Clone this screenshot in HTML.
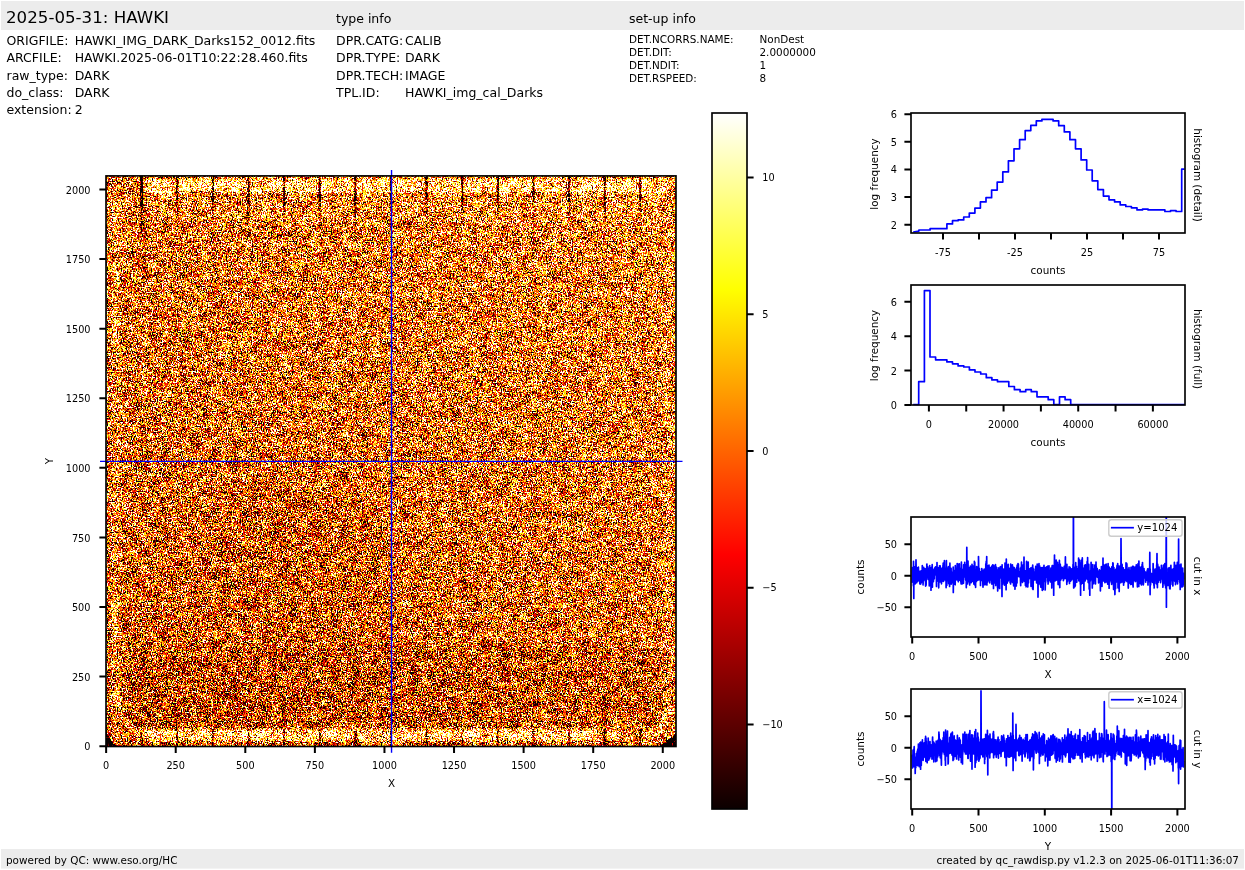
<!DOCTYPE html>
<html><head><meta charset="utf-8"><title>HAWKI raw display</title>
<style>
html,body{margin:0;padding:0;background:#fff;overflow:hidden}
svg{display:block}
text{font-family:'DejaVu Sans','Liberation Sans',sans-serif;white-space:pre}
.sp{fill:none;stroke:#000;stroke-width:1.65}
.tk{stroke:#000;stroke-width:2.0;fill:none}
.ln{fill:none;stroke:#0000ff;stroke-linejoin:round}
</style></head><body>
<svg width="1245" height="870" viewBox="0 0 1245 870">

<rect x="1" y="1" width="1243" height="29" fill="#ececec"/>
<rect x="1" y="849" width="1243" height="19.6" fill="#ececec"/>
<text x="6" y="23" font-size="16.67" text-anchor="start" fill="#000">2025-05-31: HAWKI</text>
<text x="336" y="23" font-size="12.5" text-anchor="start" fill="#000">type info</text>
<text x="629" y="23" font-size="12.5" text-anchor="start" fill="#000">set-up info</text>
<text x="6.5" y="44.7" font-size="12.5" text-anchor="start" fill="#000">ORIGFILE:</text>
<text x="74.7" y="44.7" font-size="12.5" text-anchor="start" fill="#000">HAWKI_IMG_DARK_Darks152_0012.fits</text>
<text x="6.5" y="61.7" font-size="12.5" text-anchor="start" fill="#000">ARCFILE:</text>
<text x="74.7" y="61.7" font-size="12.5" text-anchor="start" fill="#000">HAWKI.2025-06-01T10:22:28.460.fits</text>
<text x="6.5" y="79.8" font-size="12.5" text-anchor="start" fill="#000">raw_type:</text>
<text x="74.7" y="79.8" font-size="12.5" text-anchor="start" fill="#000">DARK</text>
<text x="6.5" y="97.3" font-size="12.5" text-anchor="start" fill="#000">do_class:</text>
<text x="74.7" y="97.3" font-size="12.5" text-anchor="start" fill="#000">DARK</text>
<text x="6.5" y="113.6" font-size="12.5" text-anchor="start" fill="#000">extension:</text>
<text x="74.7" y="113.6" font-size="12.5" text-anchor="start" fill="#000">2</text>
<text x="336" y="44.7" font-size="12.5" text-anchor="start" fill="#000">DPR.CATG:</text>
<text x="405" y="44.7" font-size="12.5" text-anchor="start" fill="#000">CALIB</text>
<text x="336" y="61.7" font-size="12.5" text-anchor="start" fill="#000">DPR.TYPE:</text>
<text x="405" y="61.7" font-size="12.5" text-anchor="start" fill="#000">DARK</text>
<text x="336" y="79.8" font-size="12.5" text-anchor="start" fill="#000">DPR.TECH:</text>
<text x="405" y="79.8" font-size="12.5" text-anchor="start" fill="#000">IMAGE</text>
<text x="336" y="97.3" font-size="12.5" text-anchor="start" fill="#000">TPL.ID:</text>
<text x="405" y="97.3" font-size="12.5" text-anchor="start" fill="#000">HAWKI_img_cal_Darks</text>
<text x="629" y="43.0" font-size="10.42" text-anchor="start" fill="#000">DET.NCORRS.NAME:</text>
<text x="759.5" y="43.0" font-size="10.42" text-anchor="start" fill="#000">NonDest</text>
<text x="629" y="55.9" font-size="10.42" text-anchor="start" fill="#000">DET.DIT:</text>
<text x="759.5" y="55.9" font-size="10.42" text-anchor="start" fill="#000">2.0000000</text>
<text x="629" y="68.8" font-size="10.42" text-anchor="start" fill="#000">DET.NDIT:</text>
<text x="759.5" y="68.8" font-size="10.42" text-anchor="start" fill="#000">1</text>
<text x="629" y="81.7" font-size="10.42" text-anchor="start" fill="#000">DET.RSPEED:</text>
<text x="759.5" y="81.7" font-size="10.42" text-anchor="start" fill="#000">8</text>
<text x="6" y="864" font-size="10.42" text-anchor="start" fill="#000">powered by QC: www.eso.org/HC</text>
<text x="1239" y="864" font-size="10.42" text-anchor="end" fill="#000">created by qc_rawdisp.py v1.2.3 on 2025-06-01T11:36:07</text>
<defs>
<filter id="hm" filterUnits="userSpaceOnUse" x="106" y="176" width="570" height="570" color-interpolation-filters="sRGB">
<feTurbulence type="fractalNoise" baseFrequency="0.8" numOctaves="1" seed="3"/><feColorMatrix type="matrix" values="1 0 0 0 0  1 0 0 0 0  1 0 0 0 0  0 0 0 0 1" result="n0"/>
<feTurbulence type="fractalNoise" baseFrequency="0.35" numOctaves="1" seed="7"/><feColorMatrix type="matrix" values="1 0 0 0 0  1 0 0 0 0  1 0 0 0 0  0 0 0 0 1" result="n1"/>
<feTurbulence type="fractalNoise" baseFrequency="0.2" numOctaves="1" seed="11"/><feColorMatrix type="matrix" values="1 0 0 0 0  1 0 0 0 0  1 0 0 0 0  0 0 0 0 1" result="n2"/>
<feTurbulence type="fractalNoise" baseFrequency="0.1" numOctaves="1" seed="19"/><feColorMatrix type="matrix" values="1 0 0 0 0  1 0 0 0 0  1 0 0 0 0  0 0 0 0 1" result="n3"/>
<feComposite in="n0" in2="n1" operator="arithmetic" k1="0" k2="0.9880" k3="0.3800" k4="-0.1840" result="a1"/>
<feComposite in="a1" in2="n2" operator="arithmetic" k1="0" k2="1" k3="0.1900" k4="-0.0950" result="a2"/>
<feComposite in="a2" in2="n3" operator="arithmetic" k1="0" k2="1" k3="0.2400" k4="-0.1200" result="g"/>

<feComposite in="g" in2="SourceGraphic" operator="arithmetic" k1="0" k2="3.1760" k3="2" k4="-2.0780" result="c"/>
<feComponentTransfer in="c">
<feFuncR type="table" tableValues="0.0416 0.0833 0.1249 0.1666 0.2083 0.2499 0.2916 0.3333 0.3750 0.4166 0.4583 0.5000 0.5416 0.5833 0.6250 0.6666 0.7083 0.7500 0.7917 0.8333 0.8750 0.9167 0.9583 1.0000 1.0000 1.0000 1.0000 1.0000 1.0000 1.0000 1.0000 1.0000 1.0000 1.0000 1.0000 1.0000 1.0000 1.0000 1.0000 1.0000 1.0000 1.0000 1.0000 1.0000 1.0000 1.0000 1.0000 1.0000 1.0000 1.0000 1.0000 1.0000 1.0000 1.0000 1.0000 1.0000 1.0000 1.0000 1.0000 1.0000 1.0000 1.0000 1.0000 1.0000"/>
<feFuncG type="table" tableValues="0.0000 0.0000 0.0000 0.0000 0.0000 0.0000 0.0000 0.0000 0.0000 0.0000 0.0000 0.0000 0.0000 0.0000 0.0000 0.0000 0.0000 0.0000 0.0000 0.0000 0.0000 0.0000 0.0000 0.0000 0.0417 0.0833 0.1250 0.1667 0.2083 0.2500 0.2917 0.3333 0.3750 0.4167 0.4583 0.5000 0.5417 0.5833 0.6250 0.6667 0.7083 0.7500 0.7917 0.8333 0.8750 0.9167 0.9583 1.0000 1.0000 1.0000 1.0000 1.0000 1.0000 1.0000 1.0000 1.0000 1.0000 1.0000 1.0000 1.0000 1.0000 1.0000 1.0000 1.0000"/>
<feFuncB type="table" tableValues="0.0000 0.0000 0.0000 0.0000 0.0000 0.0000 0.0000 0.0000 0.0000 0.0000 0.0000 0.0000 0.0000 0.0000 0.0000 0.0000 0.0000 0.0000 0.0000 0.0000 0.0000 0.0000 0.0000 0.0000 0.0000 0.0000 0.0000 0.0000 0.0000 0.0000 0.0000 0.0000 0.0000 0.0000 0.0000 0.0000 0.0000 0.0000 0.0000 0.0000 0.0000 0.0000 0.0000 0.0000 0.0000 0.0000 0.0000 0.0000 0.0625 0.1250 0.1875 0.2500 0.3125 0.3750 0.4375 0.5000 0.5625 0.6250 0.6875 0.7500 0.8125 0.8750 0.9375 1.0000"/>
<feFuncA type="linear" slope="0" intercept="1"/>
</feComponentTransfer>
</filter>
<linearGradient id="cb" x1="0" y1="0" x2="0" y2="1">
<stop offset="0" stop-color="#ffffff"/><stop offset="0.253968" stop-color="#ffff00"/><stop offset="0.634921" stop-color="#ff0000"/><stop offset="1" stop-color="#0b0000"/>
</linearGradient>
<linearGradient id="fadeDown" x1="0" y1="0" x2="0" y2="1">
<stop offset="0" stop-color="#000" stop-opacity="0.4"/><stop offset="1" stop-color="#000" stop-opacity="0"/>
</linearGradient>
<linearGradient id="baseg" x1="-0.0215" y1="1.3533" x2="1.0215" y2="-0.3533">
<stop offset="0" stop-color="#727272"/><stop offset="1" stop-color="#8d8d8d"/>
</linearGradient>
<filter id="bl1" filterUnits="userSpaceOnUse" x="90" y="160" width="610" height="610"><feGaussianBlur stdDeviation="1.2"/></filter>
<filter id="bl2" filterUnits="userSpaceOnUse" x="90" y="160" width="610" height="610"><feGaussianBlur stdDeviation="2"/></filter>
<filter id="bl4" filterUnits="userSpaceOnUse" x="90" y="160" width="610" height="610"><feGaussianBlur stdDeviation="4"/></filter>
</defs>
<g filter="url(#hm)">
<rect x="106" y="176" width="570" height="570" fill="url(#baseg)"/>
<ellipse cx="295" cy="560" rx="95" ry="80" fill="#000" opacity="0.035" filter="url(#bl4)"/>
<rect x="125" y="645" width="535" height="80" fill="#000" opacity="0.06" filter="url(#bl4)"/>
<path d="M116 700 L116 215 Q116 198 140 194" fill="none" stroke="#fff" stroke-width="9" opacity="0.12" filter="url(#bl2)"/>
<path d="M668 715 L668 215 Q668 200 650 196" fill="none" stroke="#fff" stroke-width="8" opacity="0.08" filter="url(#bl2)"/>
<rect x="144" y="179" width="524" height="14" rx="5" fill="#fff" opacity="0.31" filter="url(#bl1)"/>
<rect x="150" y="197" width="510" height="26" fill="#fff" opacity="0.06" filter="url(#bl2)"/>
<path d="M138 735 L600 735" fill="none" stroke="#fff" stroke-width="11.5" opacity="0.34" filter="url(#bl1)"/>
<path d="M118 690 Q119 722 138 733" fill="none" stroke="#fff" stroke-width="6" opacity="0.25" filter="url(#bl1)"/>
<path d="M600 735 L645 735 Q666 733 669 708" fill="none" stroke="#fff" stroke-width="9" opacity="0.2" filter="url(#bl1)"/>
<path d="M106 746 L106 730 Q109 742 117 746 Z" fill="#000" opacity="0.9"/>
<path d="M676 746 L676 733 Q669 740 660 746 Z" fill="#000" opacity="0.85"/>
<rect x="140.12" y="176" width="3.0" height="30" rx="1.1" fill="#000" opacity="0.75"/>
<rect x="140.53" y="202" width="2.2" height="41" fill="url(#fadeDown)"/>
<rect x="140.62" y="729" width="2.0" height="17" fill="#000" opacity="0.45"/>
<rect x="176.15" y="176" width="2.2" height="24" rx="1.1" fill="#000" opacity="0.6"/>
<rect x="176.15" y="196" width="2.2" height="48" fill="url(#fadeDown)"/>
<rect x="176.25" y="729" width="2.0" height="17" fill="#000" opacity="0.45"/>
<rect x="211.78" y="176" width="2.2" height="26" rx="1.1" fill="#000" opacity="0.6"/>
<rect x="211.78" y="198" width="2.2" height="38" fill="url(#fadeDown)"/>
<rect x="211.88" y="729" width="2.0" height="17" fill="#000" opacity="0.45"/>
<rect x="247.40" y="176" width="2.2" height="28" rx="1.1" fill="#000" opacity="0.6"/>
<rect x="247.40" y="200" width="2.2" height="45" fill="url(#fadeDown)"/>
<rect x="247.50" y="729" width="2.0" height="17" fill="#000" opacity="0.45"/>
<rect x="283.02" y="176" width="2.2" height="30" rx="1.1" fill="#000" opacity="0.6"/>
<rect x="283.02" y="202" width="2.2" height="35" fill="url(#fadeDown)"/>
<rect x="283.12" y="729" width="2.0" height="17" fill="#000" opacity="0.45"/>
<rect x="318.65" y="176" width="2.2" height="26" rx="1.1" fill="#000" opacity="0.6"/>
<rect x="318.65" y="198" width="2.2" height="42" fill="url(#fadeDown)"/>
<rect x="318.75" y="729" width="2.0" height="17" fill="#000" opacity="0.45"/>
<rect x="354.27" y="176" width="2.2" height="24" rx="1.1" fill="#000" opacity="0.6"/>
<rect x="354.27" y="196" width="2.2" height="49" fill="url(#fadeDown)"/>
<rect x="354.38" y="729" width="2.0" height="17" fill="#000" opacity="0.45"/>
<rect x="389.90" y="176" width="2.2" height="22" rx="1.1" fill="#000" opacity="0.6"/>
<rect x="389.90" y="194" width="2.2" height="39" fill="url(#fadeDown)"/>
<rect x="390.00" y="729" width="2.0" height="17" fill="#000" opacity="0.45"/>
<rect x="425.52" y="176" width="2.2" height="24" rx="1.1" fill="#000" opacity="0.6"/>
<rect x="425.52" y="196" width="2.2" height="46" fill="url(#fadeDown)"/>
<rect x="425.62" y="729" width="2.0" height="17" fill="#000" opacity="0.45"/>
<rect x="461.15" y="176" width="2.2" height="26" rx="1.1" fill="#000" opacity="0.6"/>
<rect x="461.15" y="198" width="2.2" height="36" fill="url(#fadeDown)"/>
<rect x="461.25" y="729" width="2.0" height="17" fill="#000" opacity="0.45"/>
<rect x="496.77" y="176" width="2.2" height="24" rx="1.1" fill="#000" opacity="0.6"/>
<rect x="496.77" y="196" width="2.2" height="43" fill="url(#fadeDown)"/>
<rect x="496.88" y="729" width="2.0" height="17" fill="#000" opacity="0.45"/>
<rect x="532.40" y="176" width="2.2" height="26" rx="1.1" fill="#000" opacity="0.6"/>
<rect x="532.40" y="198" width="2.2" height="50" fill="url(#fadeDown)"/>
<rect x="532.50" y="729" width="2.0" height="17" fill="#000" opacity="0.45"/>
<rect x="568.02" y="176" width="2.2" height="26" rx="1.1" fill="#000" opacity="0.6"/>
<rect x="568.02" y="198" width="2.2" height="40" fill="url(#fadeDown)"/>
<rect x="568.12" y="729" width="2.0" height="17" fill="#000" opacity="0.45"/>
<rect x="603.65" y="176" width="2.2" height="24" rx="1.1" fill="#000" opacity="0.6"/>
<rect x="603.65" y="196" width="2.2" height="47" fill="url(#fadeDown)"/>
<rect x="603.75" y="729" width="2.0" height="17" fill="#000" opacity="0.45"/>
<rect x="639.27" y="176" width="2.2" height="24" rx="1.1" fill="#000" opacity="0.6"/>
<rect x="639.27" y="196" width="2.2" height="37" fill="url(#fadeDown)"/>
<rect x="639.38" y="729" width="2.0" height="17" fill="#000" opacity="0.45"/>
</g>
<path d="M391.54 170V752.7M100 461.36H682.5" stroke="#0000ff" stroke-width="1.39" fill="none"/>
<rect class="sp" x="106" y="175.9" width="570" height="570.6"/>
<text x="106.14" y="768.6" font-size="9.72" text-anchor="middle" fill="#000">0</text>
<text x="90.5" y="750.26" font-size="9.72" text-anchor="end" fill="#000">0</text>
<text x="175.72" y="768.6" font-size="9.72" text-anchor="middle" fill="#000">250</text>
<text x="90.5" y="680.68" font-size="9.72" text-anchor="end" fill="#000">250</text>
<text x="245.3" y="768.6" font-size="9.72" text-anchor="middle" fill="#000">500</text>
<text x="90.5" y="611.1" font-size="9.72" text-anchor="end" fill="#000">500</text>
<text x="314.88" y="768.6" font-size="9.72" text-anchor="middle" fill="#000">750</text>
<text x="90.5" y="541.52" font-size="9.72" text-anchor="end" fill="#000">750</text>
<text x="384.46" y="768.6" font-size="9.72" text-anchor="middle" fill="#000">1000</text>
<text x="90.5" y="471.94" font-size="9.72" text-anchor="end" fill="#000">1000</text>
<text x="454.04" y="768.6" font-size="9.72" text-anchor="middle" fill="#000">1250</text>
<text x="90.5" y="402.36" font-size="9.72" text-anchor="end" fill="#000">1250</text>
<text x="523.62" y="768.6" font-size="9.72" text-anchor="middle" fill="#000">1500</text>
<text x="90.5" y="332.78" font-size="9.72" text-anchor="end" fill="#000">1500</text>
<text x="593.2" y="768.6" font-size="9.72" text-anchor="middle" fill="#000">1750</text>
<text x="90.5" y="263.2" font-size="9.72" text-anchor="end" fill="#000">1750</text>
<text x="662.78" y="768.6" font-size="9.72" text-anchor="middle" fill="#000">2000</text>
<text x="90.5" y="193.62" font-size="9.72" text-anchor="end" fill="#000">2000</text>
<path class="tk" d="M106.14 746.4v6.6M106 746.16h-6.6M175.72 746.4v6.6M106 676.58h-6.6M245.30 746.4v6.6M106 607.00h-6.6M314.88 746.4v6.6M106 537.42h-6.6M384.46 746.4v6.6M106 467.84h-6.6M454.04 746.4v6.6M106 398.26h-6.6M523.62 746.4v6.6M106 328.68h-6.6M593.20 746.4v6.6M106 259.10h-6.6M662.78 746.4v6.6M106 189.52h-6.6"/>
<text x="391.6" y="786.5" font-size="10.42" text-anchor="middle" fill="#000">X</text>
<text x="52.6" y="461" font-size="10.42" text-anchor="middle" fill="#000" transform="rotate(-90 52.6 461)">Y</text>
<rect x="712" y="113" width="35" height="696" fill="url(#cb)"/>
<rect class="sp" x="712" y="113" width="35" height="696"/>
<text x="762.3" y="181.0" font-size="9.72" text-anchor="start" fill="#000">10</text>
<text x="762.3" y="317.75" font-size="9.72" text-anchor="start" fill="#000">5</text>
<text x="762.3" y="454.5" font-size="9.72" text-anchor="start" fill="#000">0</text>
<text x="762.3" y="591.25" font-size="9.72" text-anchor="start" fill="#000">−5</text>
<text x="762.3" y="728.0" font-size="9.72" text-anchor="start" fill="#000">−10</text>
<path class="tk" d="M747 177.40h6.6M747 314.15h6.6M747 450.90h6.6M747 587.65h6.6M747 724.40h6.6"/>
<path class="ln" d="M913.2 232.0 L918.9 231.1 L918.9 230.0 L930.1 230.0 L930.1 228.7 L946.9 228.7 L946.9 223.9 L952.5 223.9 L952.5 220.7 L958.1 220.7 L958.1 219.9 L963.7 219.9 L963.7 217.0 L969.3 217.0 L969.3 213.1 L974.9 213.1 L974.9 208.1 L980.4 208.1 L980.4 201.9 L986.0 201.9 L986.0 197.7 L991.6 197.7 L991.6 190.1 L997.2 190.1 L997.2 182.1 L1002.8 182.1 L1002.8 171.9 L1008.4 171.9 L1008.4 160.8 L1014.0 160.8 L1014.0 148.8 L1019.6 148.8 L1019.6 139.7 L1025.2 139.7 L1025.2 130.6 L1030.8 130.6 L1030.8 125.4 L1036.3 125.4 L1036.3 120.9 L1041.9 120.9 L1041.9 119.3 L1053.1 119.3 L1053.1 120.9 L1058.7 120.9 L1058.7 125.7 L1064.3 125.7 L1064.3 131.9 L1069.9 131.9 L1069.9 139.7 L1075.5 139.7 L1075.5 148.8 L1081.1 148.8 L1081.1 159.9 L1086.7 159.9 L1086.7 170.0 L1092.2 170.0 L1092.2 180.8 L1097.8 180.8 L1097.8 189.6 L1103.4 189.6 L1103.4 196.1 L1109.0 196.1 L1109.0 199.8 L1114.6 199.8 L1114.6 201.9 L1120.2 201.9 L1120.2 204.9 L1125.8 204.9 L1125.8 206.5 L1131.4 206.5 L1131.4 207.8 L1137.0 207.8 L1137.0 209.9 L1142.5 209.9 L1142.5 209.1 L1148.1 209.1 L1148.1 209.9 L1164.9 209.9 L1164.9 211.5 L1170.5 211.5 L1170.5 210.7 L1176.1 210.7 L1176.1 211.5 L1181.7 211.5 L1181.7 169.2 L1184.5 169.2" stroke-width="1.7" stroke-linejoin="miter"/>
<rect class="sp" x="911" y="113" width="274" height="120"/>
<text x="943.0" y="255.5" font-size="9.72" text-anchor="middle" fill="#000">-75</text>
<text x="1015.0" y="255.5" font-size="9.72" text-anchor="middle" fill="#000">-25</text>
<text x="1087.0" y="255.5" font-size="9.72" text-anchor="middle" fill="#000">25</text>
<text x="1159.0" y="255.5" font-size="9.72" text-anchor="middle" fill="#000">75</text>
<text x="897" y="228.6" font-size="9.72" text-anchor="end" fill="#000">2</text>
<text x="897" y="200.97" font-size="9.72" text-anchor="end" fill="#000">3</text>
<text x="897" y="173.34" font-size="9.72" text-anchor="end" fill="#000">4</text>
<text x="897" y="145.71" font-size="9.72" text-anchor="end" fill="#000">5</text>
<text x="897" y="118.08" font-size="9.72" text-anchor="end" fill="#000">6</text>
<path class="tk" d="M943.00 233v6.6M979.00 233v6.6M1015.00 233v6.6M1051.00 233v6.6M1087.00 233v6.6M1123.00 233v6.6M1159.00 233v6.6M911 224.70h-6.6M911 197.07h-6.6M911 169.44h-6.6M911 141.81h-6.6M911 114.18h-6.6"/>
<text x="1048" y="273.5" font-size="10.42" text-anchor="middle" fill="#000">counts</text>
<text x="878" y="174.0" font-size="10.42" text-anchor="middle" fill="#000" transform="rotate(-90 878 174.0)">log frequency</text>
<text x="1193.5" y="175.0" font-size="10.42" text-anchor="middle" fill="#000" transform="rotate(90 1193.5 175.0)">histogram (detail)</text>
<path class="ln" d="M913.2 404.5 L918.7 404.5 L918.7 381.7 L924.4 381.7 L924.4 290.6 L930.0 290.6 L930.0 357.0 L935.6 357.0 L935.6 359.8 L946.9 359.8 L946.9 361.9 L952.5 361.9 L952.5 363.8 L958.1 363.8 L958.1 365.9 L963.8 365.9 L963.8 367.0 L969.4 367.0 L969.4 369.9 L975.0 369.9 L975.0 372.0 L980.7 372.0 L980.7 374.0 L986.3 374.0 L986.3 377.7 L991.9 377.7 L991.9 379.9 L997.5 379.9 L997.5 381.7 L1008.8 381.7 L1008.8 386.5 L1014.4 386.5 L1014.4 389.7 L1020.1 389.7 L1020.1 391.7 L1025.7 391.7 L1025.7 389.7 L1031.3 389.7 L1031.3 391.7 L1037.0 391.7 L1037.0 396.8 L1048.2 396.8 L1048.2 399.7 L1053.8 399.7 L1053.8 404.5 L1059.5 404.5 L1059.5 396.8 L1065.1 396.8 L1065.1 399.7 L1070.7 399.7 L1070.7 404.5 L1076.4 404.5 L1184.5 404.5" stroke-width="1.7" stroke-linejoin="miter"/>
<rect class="sp" x="911" y="285" width="274" height="120"/>
<text x="928.9" y="427.5" font-size="9.72" text-anchor="middle" fill="#000">0</text>
<text x="1003.56" y="427.5" font-size="9.72" text-anchor="middle" fill="#000">20000</text>
<text x="1078.22" y="427.5" font-size="9.72" text-anchor="middle" fill="#000">40000</text>
<text x="1152.88" y="427.5" font-size="9.72" text-anchor="middle" fill="#000">60000</text>
<text x="897" y="408.9" font-size="9.72" text-anchor="end" fill="#000">0</text>
<text x="897" y="374.5" font-size="9.72" text-anchor="end" fill="#000">2</text>
<text x="897" y="340.1" font-size="9.72" text-anchor="end" fill="#000">4</text>
<text x="897" y="305.7" font-size="9.72" text-anchor="end" fill="#000">6</text>
<path class="tk" d="M928.90 405v6.6M966.23 405v6.6M1003.56 405v6.6M1040.89 405v6.6M1078.22 405v6.6M1115.55 405v6.6M1152.88 405v6.6M911 405.00h-6.6M911 370.60h-6.6M911 336.20h-6.6M911 301.80h-6.6"/>
<text x="1048" y="445.5" font-size="10.42" text-anchor="middle" fill="#000">counts</text>
<text x="878" y="345.5" font-size="10.42" text-anchor="middle" fill="#000" transform="rotate(-90 878 345.5)">log frequency</text>
<text x="1193.5" y="349.0" font-size="10.42" text-anchor="middle" fill="#000" transform="rotate(90 1193.5 349.0)">histogram (full)</text>
<clipPath id="c3"><rect x="911" y="517" width="274" height="120"/></clipPath>
<path class="ln" clip-path="url(#c3)" d="M912.2,582.8 912.3,567.6 912.5,579.7 912.6,576.2 912.7,575.2 912.9,579.0 913.0,582.5 913.1,571.1 913.3,572.7 913.4,585.8 913.5,561.4 913.7,569.2 913.8,598.4 913.9,569.6 914.1,577.4 914.2,575.1 914.3,570.3 914.5,581.9 914.6,571.5 914.7,566.8 914.9,567.2 915.0,576.4 915.1,569.6 915.2,584.0 915.4,575.6 915.5,572.2 915.6,582.4 915.8,575.2 915.9,565.0 916.0,559.9 916.2,570.3 916.3,570.0 916.4,580.2 916.6,581.6 916.7,582.8 916.8,571.7 917.0,570.5 917.1,578.5 917.2,581.7 917.4,573.3 917.5,573.0 917.6,575.5 917.8,567.5 917.9,575.3 918.0,575.1 918.2,581.0 918.3,574.0 918.4,567.1 918.6,574.4 918.7,574.3 918.8,572.3 919.0,573.2 919.1,571.7 919.2,571.7 919.4,571.2 919.5,579.3 919.6,573.0 919.8,583.8 919.9,573.2 920.0,581.9 920.2,575.2 920.3,572.1 920.4,577.1 920.6,574.2 920.7,584.1 920.8,579.6 921.0,570.8 921.1,581.3 921.2,571.1 921.3,582.6 921.5,579.9 921.6,581.0 921.7,574.7 921.9,571.7 922.0,580.8 922.1,575.8 922.3,565.5 922.4,576.5 922.5,579.4 922.7,572.6 922.8,576.0 922.9,578.7 923.1,584.9 923.2,570.1 923.3,578.0 923.5,574.7 923.6,580.8 923.7,567.4 923.9,570.5 924.0,569.2 924.1,575.4 924.3,572.1 924.4,569.7 924.5,568.9 924.7,573.0 924.8,575.1 924.9,576.8 925.1,579.0 925.2,580.2 925.3,572.7 925.5,576.1 925.6,586.1 925.7,575.6 925.9,568.7 926.0,576.3 926.1,585.3 926.3,575.5 926.4,570.3 926.5,573.6 926.7,577.2 926.8,564.3 926.9,564.0 927.1,575.3 927.2,570.1 927.3,572.5 927.4,570.3 927.6,566.5 927.7,570.1 927.8,574.2 928.0,578.5 928.1,579.4 928.2,574.9 928.4,568.2 928.5,573.0 928.6,574.4 928.8,573.3 928.9,574.5 929.0,571.6 929.2,581.1 929.3,586.0 929.4,577.2 929.6,581.3 929.7,565.6 929.8,575.6 930.0,576.2 930.1,583.5 930.2,573.1 930.4,578.3 930.5,568.4 930.6,570.0 930.8,579.2 930.9,572.4 931.0,590.2 931.2,578.6 931.3,567.7 931.4,570.3 931.6,573.8 931.7,574.9 931.8,582.8 932.0,582.5 932.1,573.5 932.2,564.7 932.4,587.1 932.5,571.2 932.6,571.3 932.8,569.4 932.9,579.7 933.0,577.7 933.2,574.5 933.3,580.6 933.4,581.7 933.5,579.8 933.7,575.1 933.8,572.6 933.9,574.9 934.1,574.3 934.2,578.6 934.3,578.8 934.5,568.4 934.6,575.1 934.7,575.2 934.9,569.4 935.0,567.7 935.1,567.5 935.3,572.4 935.4,575.0 935.5,573.1 935.7,573.7 935.8,566.8 935.9,573.1 936.1,571.1 936.2,574.9 936.3,567.0 936.5,586.4 936.6,572.6 936.7,570.5 936.9,581.3 937.0,562.5 937.1,575.6 937.3,575.7 937.4,580.9 937.5,569.8 937.7,573.5 937.8,578.1 937.9,573.5 938.1,570.9 938.2,567.9 938.3,573.5 938.5,580.2 938.6,577.9 938.7,587.8 938.9,578.9 939.0,570.6 939.1,572.1 939.3,575.4 939.4,576.7 939.5,565.8 939.6,573.1 939.8,569.6 939.9,572.5 940.0,578.5 940.2,565.9 940.3,581.8 940.4,581.5 940.6,577.2 940.7,578.9 940.8,577.9 941.0,578.2 941.1,569.1 941.2,574.4 941.4,572.7 941.5,583.8 941.6,579.6 941.8,568.6 941.9,581.6 942.0,568.1 942.2,580.6 942.3,573.0 942.4,579.6 942.6,573.6 942.7,579.9 942.8,576.2 943.0,565.3 943.1,576.9 943.2,563.2 943.4,577.4 943.5,581.4 943.6,574.3 943.8,577.1 943.9,564.8 944.0,569.9 944.2,568.0 944.3,571.2 944.4,560.7 944.6,570.2 944.7,571.7 944.8,579.5 945.0,579.9 945.1,573.7 945.2,569.1 945.4,568.4 945.5,580.1 945.6,571.7 945.7,573.6 945.9,581.1 946.0,571.8 946.1,587.6 946.3,573.3 946.4,560.7 946.5,580.5 946.7,574.6 946.8,585.5 946.9,579.0 947.1,570.5 947.2,580.7 947.3,574.9 947.5,576.8 947.6,576.9 947.7,573.7 947.9,572.0 948.0,567.8 948.1,570.0 948.3,578.0 948.4,566.7 948.5,567.7 948.7,583.6 948.8,571.0 948.9,570.1 949.1,569.3 949.2,571.6 949.3,582.1 949.5,576.3 949.6,586.5 949.7,575.6 949.9,563.2 950.0,570.9 950.1,570.0 950.3,577.7 950.4,580.5 950.5,580.8 950.7,574.0 950.8,579.3 950.9,578.4 951.1,568.3 951.2,584.1 951.3,582.2 951.4,577.6 951.6,575.3 951.7,575.5 951.8,582.7 952.0,573.6 952.1,575.5 952.2,572.7 952.4,580.9 952.5,573.4 952.6,573.5 952.8,578.5 952.9,576.0 953.0,577.9 953.2,567.0 953.3,592.5 953.4,583.0 953.6,584.4 953.7,576.9 953.8,578.6 954.0,577.1 954.1,570.7 954.2,584.0 954.4,579.5 954.5,576.0 954.6,581.6 954.8,572.6 954.9,572.9 955.0,578.8 955.2,584.8 955.3,565.7 955.4,572.1 955.6,572.3 955.7,574.3 955.8,574.8 956.0,570.0 956.1,574.8 956.2,578.3 956.4,570.7 956.5,574.4 956.6,579.1 956.8,579.9 956.9,568.1 957.0,571.2 957.2,563.5 957.3,577.7 957.4,579.0 957.5,572.5 957.7,566.9 957.8,571.4 957.9,572.3 958.1,564.0 958.2,579.0 958.3,581.8 958.5,579.0 958.6,576.5 958.7,572.6 958.9,568.9 959.0,572.4 959.1,566.1 959.3,579.4 959.4,563.9 959.5,579.4 959.7,568.1 959.8,580.1 959.9,572.8 960.1,574.5 960.2,571.8 960.3,570.5 960.5,576.0 960.6,575.1 960.7,573.4 960.9,582.2 961.0,578.9 961.1,584.0 961.3,574.7 961.4,562.1 961.5,570.5 961.7,579.7 961.8,578.8 961.9,569.2 962.1,577.4 962.2,583.9 962.3,580.6 962.5,580.7 962.6,580.5 962.7,570.9 962.9,574.3 963.0,583.2 963.1,577.8 963.3,581.2 963.4,581.6 963.5,583.3 963.6,564.8 963.8,576.5 963.9,571.5 964.0,569.8 964.2,576.9 964.3,571.7 964.4,571.7 964.6,573.5 964.7,562.4 964.8,573.1 965.0,576.0 965.1,571.1 965.2,564.7 965.4,569.1 965.5,577.5 965.6,579.6 965.8,580.0 965.9,578.5 966.0,572.6 966.2,569.9 966.3,587.6 966.4,574.9 966.6,581.0 966.7,570.9 966.8,547.3 967.0,579.2 967.1,577.3 967.2,580.1 967.4,572.5 967.5,583.9 967.6,581.1 967.8,578.6 967.9,567.8 968.0,561.1 968.2,574.6 968.3,581.7 968.4,574.3 968.6,579.7 968.7,572.1 968.8,581.1 969.0,576.8 969.1,574.8 969.2,571.8 969.4,575.2 969.5,567.6 969.6,574.0 969.7,585.0 969.9,569.5 970.0,576.4 970.1,578.5 970.3,566.2 970.4,580.4 970.5,574.3 970.7,578.8 970.8,567.1 970.9,576.8 971.1,573.4 971.2,582.6 971.3,566.6 971.5,580.8 971.6,569.6 971.7,568.4 971.9,567.8 972.0,564.4 972.1,581.4 972.3,572.5 972.4,574.0 972.5,572.4 972.7,568.5 972.8,574.1 972.9,579.4 973.1,575.3 973.2,566.0 973.3,581.4 973.5,574.3 973.6,580.3 973.7,568.5 973.9,584.1 974.0,576.7 974.1,575.5 974.3,574.1 974.4,561.3 974.5,565.9 974.7,580.6 974.8,562.5 974.9,581.5 975.1,585.4 975.2,583.3 975.3,573.6 975.5,571.7 975.6,587.3 975.7,572.3 975.8,576.3 976.0,570.7 976.1,576.9 976.2,569.6 976.4,571.5 976.5,581.4 976.6,566.5 976.8,573.5 976.9,570.6 977.0,567.6 977.2,580.3 977.3,575.2 977.4,579.4 977.6,580.1 977.7,573.2 977.8,572.8 978.0,567.2 978.1,566.9 978.2,574.9 978.4,579.5 978.5,556.6 978.6,562.6 978.8,575.4 978.9,580.0 979.0,577.2 979.2,573.2 979.3,568.3 979.4,569.2 979.6,572.3 979.7,576.1 979.8,573.8 980.0,576.5 980.1,574.3 980.2,575.3 980.4,571.8 980.5,585.4 980.6,576.7 980.8,576.4 980.9,581.2 981.0,575.7 981.2,580.7 981.3,578.5 981.4,576.4 981.5,576.2 981.7,578.0 981.8,568.5 981.9,573.6 982.1,572.9 982.2,573.4 982.3,578.5 982.5,579.8 982.6,570.0 982.7,576.8 982.9,584.8 983.0,587.2 983.1,573.5 983.3,578.9 983.4,575.1 983.5,577.9 983.7,577.1 983.8,575.7 983.9,581.8 984.1,574.9 984.2,569.1 984.3,570.8 984.5,584.6 984.6,582.4 984.7,582.3 984.9,576.2 985.0,569.9 985.1,572.9 985.3,584.7 985.4,574.4 985.5,570.2 985.7,577.3 985.8,563.9 985.9,578.4 986.1,568.1 986.2,561.4 986.3,582.0 986.5,576.6 986.6,571.5 986.7,556.5 986.9,584.9 987.0,571.5 987.1,573.1 987.3,577.1 987.4,579.5 987.5,577.7 987.6,576.5 987.8,582.0 987.9,565.8 988.0,581.0 988.2,577.2 988.3,578.5 988.4,577.1 988.6,574.2 988.7,579.0 988.8,576.1 989.0,565.0 989.1,568.8 989.2,576.4 989.4,569.6 989.5,579.1 989.6,573.5 989.8,582.9 989.9,581.2 990.0,579.7 990.2,567.7 990.3,573.4 990.4,571.6 990.6,573.9 990.7,572.7 990.8,572.4 991.0,570.4 991.1,573.8 991.2,579.9 991.4,579.2 991.5,567.9 991.6,566.7 991.8,571.6 991.9,584.1 992.0,565.8 992.2,572.9 992.3,575.2 992.4,574.6 992.6,576.9 992.7,564.8 992.8,565.2 993.0,580.8 993.1,575.8 993.2,573.0 993.4,567.5 993.5,588.5 993.6,569.5 993.7,565.3 993.9,576.6 994.0,575.0 994.1,567.7 994.3,572.7 994.4,582.4 994.5,581.5 994.7,580.7 994.8,582.9 994.9,574.9 995.1,577.8 995.2,574.6 995.3,570.8 995.5,564.7 995.6,573.6 995.7,585.4 995.9,566.9 996.0,575.5 996.1,568.2 996.3,577.4 996.4,573.1 996.5,575.6 996.7,575.0 996.8,567.6 996.9,578.6 997.1,573.9 997.2,573.6 997.3,577.1 997.5,587.4 997.6,572.9 997.7,591.0 997.9,583.4 998.0,577.5 998.1,572.4 998.3,569.9 998.4,570.1 998.5,571.5 998.7,576.9 998.8,567.9 998.9,576.4 999.1,568.5 999.2,587.6 999.3,580.3 999.5,578.1 999.6,574.8 999.7,588.4 999.8,570.2 1000.0,569.2 1000.1,570.4 1000.2,577.8 1000.4,566.6 1000.5,577.9 1000.6,569.7 1000.8,575.2 1000.9,574.9 1001.0,575.7 1001.2,575.0 1001.3,568.5 1001.4,566.7 1001.6,566.7 1001.7,569.7 1001.8,571.0 1002.0,596.5 1002.1,564.8 1002.2,577.3 1002.4,578.4 1002.5,574.6 1002.6,584.3 1002.8,576.2 1002.9,575.2 1003.0,580.7 1003.2,578.1 1003.3,570.9 1003.4,576.1 1003.6,574.4 1003.7,569.0 1003.8,578.3 1004.0,581.3 1004.1,575.1 1004.2,572.4 1004.4,585.1 1004.5,571.1 1004.6,576.6 1004.8,577.2 1004.9,579.7 1005.0,563.1 1005.2,569.4 1005.3,571.8 1005.4,570.2 1005.6,576.9 1005.7,565.8 1005.8,567.6 1005.9,574.9 1006.1,589.7 1006.2,574.5 1006.3,559.1 1006.5,575.1 1006.6,580.6 1006.7,565.1 1006.9,578.3 1007.0,572.0 1007.1,570.4 1007.3,583.1 1007.4,574.1 1007.5,568.0 1007.7,576.6 1007.8,571.1 1007.9,574.9 1008.1,568.9 1008.2,564.3 1008.3,581.0 1008.5,576.4 1008.6,572.5 1008.7,578.4 1008.9,579.5 1009.0,576.7 1009.1,576.3 1009.3,578.5 1009.4,572.9 1009.5,570.2 1009.7,570.5 1009.8,570.9 1009.9,568.0 1010.1,582.5 1010.2,575.4 1010.3,573.7 1010.5,571.8 1010.6,583.9 1010.7,564.1 1010.9,579.8 1011.0,573.2 1011.1,570.6 1011.3,568.6 1011.4,578.6 1011.5,577.8 1011.7,572.6 1011.8,571.4 1011.9,569.6 1012.0,575.1 1012.2,578.7 1012.3,582.3 1012.4,564.8 1012.6,582.5 1012.7,570.8 1012.8,573.2 1013.0,570.4 1013.1,569.3 1013.2,567.1 1013.4,575.1 1013.5,572.5 1013.6,585.8 1013.8,574.5 1013.9,579.9 1014.0,575.6 1014.2,567.7 1014.3,574.1 1014.4,568.5 1014.6,575.9 1014.7,572.5 1014.8,577.1 1015.0,589.2 1015.1,578.8 1015.2,576.2 1015.4,573.8 1015.5,574.7 1015.6,575.4 1015.8,569.3 1015.9,571.2 1016.0,577.0 1016.2,569.8 1016.3,586.0 1016.4,576.3 1016.6,575.5 1016.7,567.3 1016.8,577.7 1017.0,583.1 1017.1,573.7 1017.2,565.1 1017.4,575.9 1017.5,575.3 1017.6,575.9 1017.7,574.4 1017.9,567.3 1018.0,563.5 1018.1,572.0 1018.3,575.3 1018.4,564.2 1018.5,574.1 1018.7,574.3 1018.8,576.7 1018.9,576.5 1019.1,573.3 1019.2,576.3 1019.3,572.3 1019.5,574.1 1019.6,571.5 1019.7,576.8 1019.9,575.8 1020.0,573.3 1020.1,574.3 1020.3,574.1 1020.4,568.0 1020.5,580.7 1020.7,585.7 1020.8,570.5 1020.9,576.0 1021.1,567.0 1021.2,575.1 1021.3,581.3 1021.5,562.2 1021.6,572.4 1021.7,577.2 1021.9,578.9 1022.0,571.5 1022.1,578.5 1022.3,572.4 1022.4,568.1 1022.5,582.5 1022.7,576.7 1022.8,571.9 1022.9,565.2 1023.1,569.4 1023.2,577.3 1023.3,566.4 1023.5,576.7 1023.6,575.6 1023.7,572.5 1023.8,580.9 1024.0,557.2 1024.1,567.9 1024.2,573.4 1024.4,577.9 1024.5,581.3 1024.6,572.6 1024.8,570.7 1024.9,577.0 1025.0,575.8 1025.2,571.5 1025.3,575.0 1025.4,585.2 1025.6,570.9 1025.7,573.3 1025.8,570.6 1026.0,579.0 1026.1,586.8 1026.2,581.8 1026.4,573.0 1026.5,562.9 1026.6,561.4 1026.8,573.0 1026.9,583.0 1027.0,576.6 1027.2,572.2 1027.3,572.2 1027.4,574.2 1027.6,567.1 1027.7,579.8 1027.8,587.0 1028.0,579.7 1028.1,581.3 1028.2,562.0 1028.4,575.8 1028.5,582.8 1028.6,571.2 1028.8,569.0 1028.9,574.4 1029.0,573.6 1029.2,568.9 1029.3,571.8 1029.4,578.7 1029.6,571.4 1029.7,569.4 1029.8,572.8 1029.9,569.8 1030.1,571.4 1030.2,576.1 1030.3,575.6 1030.5,571.2 1030.6,577.9 1030.7,568.2 1030.9,567.8 1031.0,586.3 1031.1,575.1 1031.3,579.0 1031.4,578.3 1031.5,573.9 1031.7,575.7 1031.8,571.5 1031.9,572.9 1032.1,572.6 1032.2,579.2 1032.3,576.7 1032.5,566.5 1032.6,588.8 1032.7,565.0 1032.9,577.9 1033.0,568.0 1033.1,589.5 1033.3,577.1 1033.4,569.9 1033.5,573.9 1033.7,569.0 1033.8,579.7 1033.9,577.9 1034.1,578.5 1034.2,571.9 1034.3,572.1 1034.5,575.4 1034.6,576.2 1034.7,576.4 1034.9,574.2 1035.0,580.1 1035.1,575.1 1035.3,575.6 1035.4,577.8 1035.5,578.0 1035.7,566.4 1035.8,578.2 1035.9,572.4 1036.0,567.0 1036.2,570.5 1036.3,574.6 1036.4,569.0 1036.6,582.8 1036.7,581.7 1036.8,577.0 1037.0,576.0 1037.1,575.3 1037.2,564.1 1037.4,565.2 1037.5,575.0 1037.6,573.3 1037.8,579.9 1037.9,572.9 1038.0,597.1 1038.2,566.8 1038.3,577.7 1038.4,571.6 1038.6,582.2 1038.7,566.8 1038.8,571.3 1039.0,563.6 1039.1,574.4 1039.2,583.9 1039.4,579.2 1039.5,581.9 1039.6,565.8 1039.8,578.3 1039.9,579.0 1040.0,571.4 1040.2,573.2 1040.3,571.9 1040.4,577.6 1040.6,586.1 1040.7,582.5 1040.8,587.2 1041.0,567.5 1041.1,569.6 1041.2,576.9 1041.4,571.2 1041.5,570.9 1041.6,571.1 1041.8,571.7 1041.9,569.7 1042.0,574.3 1042.1,587.3 1042.3,590.5 1042.4,567.6 1042.5,571.3 1042.7,589.0 1042.8,573.8 1042.9,579.7 1043.1,577.9 1043.2,589.5 1043.3,570.4 1043.5,575.2 1043.6,570.1 1043.7,568.6 1043.9,567.4 1044.0,565.4 1044.1,573.1 1044.3,573.5 1044.4,578.4 1044.5,571.7 1044.7,576.1 1044.8,581.4 1044.9,567.9 1045.1,570.7 1045.2,590.0 1045.3,585.3 1045.5,576.0 1045.6,582.4 1045.7,567.7 1045.9,573.7 1046.0,571.5 1046.1,569.3 1046.3,567.0 1046.4,576.3 1046.5,571.1 1046.7,573.2 1046.8,570.1 1046.9,571.5 1047.1,566.5 1047.2,571.6 1047.3,577.4 1047.5,574.0 1047.6,581.1 1047.7,572.8 1047.8,566.0 1048.0,578.1 1048.1,584.1 1048.2,575.1 1048.4,577.5 1048.5,574.7 1048.6,578.0 1048.8,574.2 1048.9,580.5 1049.0,565.8 1049.2,575.9 1049.3,571.7 1049.4,570.3 1049.6,575.5 1049.7,572.1 1049.8,576.1 1050.0,577.2 1050.1,575.9 1050.2,571.8 1050.4,581.9 1050.5,579.8 1050.6,579.2 1050.8,577.9 1050.9,568.0 1051.0,574.8 1051.2,576.4 1051.3,573.8 1051.4,568.6 1051.6,578.9 1051.7,568.8 1051.8,587.9 1052.0,579.7 1052.1,566.2 1052.2,565.7 1052.4,573.5 1052.5,577.0 1052.6,569.9 1052.8,576.9 1052.9,565.7 1053.0,567.8 1053.2,570.2 1053.3,579.3 1053.4,569.0 1053.6,575.9 1053.7,595.2 1053.8,576.9 1053.9,575.2 1054.1,571.6 1054.2,569.6 1054.3,569.6 1054.5,555.1 1054.6,576.4 1054.7,567.8 1054.9,578.2 1055.0,575.5 1055.1,581.0 1055.3,567.5 1055.4,572.9 1055.5,573.6 1055.7,575.0 1055.8,569.1 1055.9,577.2 1056.1,572.1 1056.2,560.0 1056.3,575.1 1056.5,577.9 1056.6,580.1 1056.7,569.7 1056.9,573.9 1057.0,578.6 1057.1,579.0 1057.3,574.1 1057.4,580.0 1057.5,562.3 1057.7,575.4 1057.8,575.3 1057.9,574.8 1058.1,584.6 1058.2,582.6 1058.3,576.4 1058.5,574.4 1058.6,581.3 1058.7,564.6 1058.9,571.7 1059.0,566.9 1059.1,567.6 1059.3,575.6 1059.4,560.4 1059.5,573.6 1059.7,585.0 1059.8,587.6 1059.9,574.3 1060.0,569.3 1060.2,573.9 1060.3,564.4 1060.4,576.0 1060.6,571.1 1060.7,570.1 1060.8,580.1 1061.0,572.5 1061.1,572.2 1061.2,568.0 1061.4,567.4 1061.5,568.7 1061.6,578.6 1061.8,570.1 1061.9,568.2 1062.0,574.1 1062.2,570.0 1062.3,569.9 1062.4,567.6 1062.6,573.9 1062.7,571.6 1062.8,573.2 1063.0,573.9 1063.1,577.8 1063.2,576.2 1063.4,580.7 1063.5,575.4 1063.6,570.4 1063.8,570.8 1063.9,570.1 1064.0,575.0 1064.2,566.4 1064.3,576.9 1064.4,570.0 1064.6,572.0 1064.7,578.6 1064.8,578.4 1065.0,570.1 1065.1,574.1 1065.2,572.8 1065.4,556.9 1065.5,571.1 1065.6,573.7 1065.8,570.2 1065.9,577.7 1066.0,575.3 1066.1,571.8 1066.3,579.0 1066.4,574.5 1066.5,575.4 1066.7,573.7 1066.8,584.3 1066.9,564.3 1067.1,574.8 1067.2,571.2 1067.3,580.2 1067.5,581.7 1067.6,574.2 1067.7,576.1 1067.9,570.6 1068.0,579.5 1068.1,579.9 1068.3,572.4 1068.4,570.3 1068.5,569.1 1068.7,574.5 1068.8,572.8 1068.9,578.8 1069.1,566.8 1069.2,567.8 1069.3,568.0 1069.5,583.4 1069.6,569.3 1069.7,578.5 1069.9,571.5 1070.0,571.9 1070.1,567.4 1070.3,575.4 1070.4,576.3 1070.5,580.1 1070.7,581.1 1070.8,571.1 1070.9,579.5 1071.1,570.6 1071.2,576.5 1071.3,577.6 1071.5,568.9 1071.6,569.5 1071.7,580.0 1071.9,575.4 1072.0,574.4 1072.1,570.6 1072.2,578.6 1072.4,576.8 1072.5,575.1 1072.6,570.5 1072.8,569.4 1072.9,577.5 1073.0,564.5 1073.2,572.0 1073.3,578.9 1073.4,481.1 1073.6,577.3 1073.7,587.9 1073.8,573.4 1074.0,571.3 1074.1,567.2 1074.2,571.6 1074.4,584.1 1074.5,576.1 1074.6,570.5 1074.8,586.8 1074.9,579.1 1075.0,570.9 1075.2,574.2 1075.3,585.8 1075.4,577.3 1075.6,574.3 1075.7,562.7 1075.8,577.0 1076.0,579.6 1076.1,573.1 1076.2,572.6 1076.4,571.2 1076.5,566.3 1076.6,574.8 1076.8,582.2 1076.9,574.2 1077.0,574.4 1077.2,569.0 1077.3,569.7 1077.4,578.6 1077.6,570.1 1077.7,568.8 1077.8,575.5 1078.0,569.1 1078.1,573.5 1078.2,573.4 1078.3,575.3 1078.5,569.9 1078.6,558.1 1078.7,573.1 1078.9,581.0 1079.0,575.7 1079.1,577.7 1079.3,572.6 1079.4,575.2 1079.5,560.1 1079.7,570.2 1079.8,563.9 1079.9,578.4 1080.1,575.6 1080.2,562.8 1080.3,583.9 1080.5,573.6 1080.6,595.2 1080.7,565.7 1080.9,582.5 1081.0,576.2 1081.1,575.5 1081.3,584.0 1081.4,560.4 1081.5,575.4 1081.7,565.1 1081.8,578.4 1081.9,582.8 1082.1,573.2 1082.2,573.4 1082.3,557.9 1082.5,580.5 1082.6,583.3 1082.7,578.5 1082.9,572.8 1083.0,571.3 1083.1,578.7 1083.3,576.5 1083.4,571.4 1083.5,568.3 1083.7,577.9 1083.8,573.8 1083.9,590.2 1084.0,580.0 1084.2,572.1 1084.3,574.6 1084.4,575.6 1084.6,565.4 1084.7,576.2 1084.8,580.7 1085.0,573.3 1085.1,573.4 1085.2,581.0 1085.4,568.8 1085.5,564.9 1085.6,577.9 1085.8,579.5 1085.9,575.0 1086.0,567.5 1086.2,577.7 1086.3,578.7 1086.4,577.9 1086.6,573.2 1086.7,573.3 1086.8,575.5 1087.0,567.7 1087.1,561.7 1087.2,577.8 1087.4,568.6 1087.5,573.0 1087.6,557.5 1087.8,579.5 1087.9,576.5 1088.0,573.9 1088.2,582.6 1088.3,575.7 1088.4,570.5 1088.6,582.7 1088.7,573.8 1088.8,564.4 1089.0,577.9 1089.1,579.6 1089.2,588.9 1089.4,575.1 1089.5,583.8 1089.6,571.4 1089.8,595.2 1089.9,571.4 1090.0,579.0 1090.1,570.8 1090.3,577.2 1090.4,580.9 1090.5,577.4 1090.7,573.2 1090.8,576.6 1090.9,571.5 1091.1,562.3 1091.2,571.1 1091.3,570.2 1091.5,578.3 1091.6,567.0 1091.7,572.5 1091.9,568.8 1092.0,579.0 1092.1,573.2 1092.3,587.9 1092.4,576.6 1092.5,579.4 1092.7,580.3 1092.8,564.7 1092.9,583.3 1093.1,575.4 1093.2,575.4 1093.3,571.6 1093.5,568.9 1093.6,583.7 1093.7,577.7 1093.9,578.6 1094.0,570.6 1094.1,569.3 1094.3,576.9 1094.4,577.7 1094.5,580.4 1094.7,572.6 1094.8,565.2 1094.9,572.5 1095.1,578.6 1095.2,579.4 1095.3,578.7 1095.5,584.0 1095.6,564.8 1095.7,574.2 1095.9,576.5 1096.0,562.0 1096.1,573.4 1096.2,566.2 1096.4,573.1 1096.5,568.4 1096.6,574.3 1096.8,576.8 1096.9,572.3 1097.0,570.6 1097.2,568.5 1097.3,573.5 1097.4,576.1 1097.6,576.8 1097.7,572.9 1097.8,577.5 1098.0,576.5 1098.1,571.6 1098.2,571.4 1098.4,571.8 1098.5,578.9 1098.6,582.9 1098.8,573.1 1098.9,574.0 1099.0,576.8 1099.2,573.5 1099.3,569.9 1099.4,575.8 1099.6,572.4 1099.7,580.2 1099.8,575.9 1100.0,579.4 1100.1,582.9 1100.2,572.2 1100.4,590.8 1100.5,575.1 1100.6,570.3 1100.8,572.4 1100.9,583.5 1101.0,573.3 1101.2,585.1 1101.3,579.7 1101.4,566.6 1101.6,573.8 1101.7,568.0 1101.8,580.9 1102.0,586.5 1102.1,579.0 1102.2,567.4 1102.3,569.5 1102.5,568.6 1102.6,575.6 1102.7,575.2 1102.9,575.9 1103.0,558.2 1103.1,574.2 1103.3,564.7 1103.4,575.7 1103.5,566.9 1103.7,580.9 1103.8,577.5 1103.9,572.7 1104.1,577.9 1104.2,577.0 1104.3,575.6 1104.5,577.7 1104.6,565.9 1104.7,568.2 1104.9,582.6 1105.0,564.9 1105.1,574.9 1105.3,574.8 1105.4,575.6 1105.5,569.7 1105.7,570.6 1105.8,577.6 1105.9,574.3 1106.1,582.1 1106.2,564.1 1106.3,579.5 1106.5,579.7 1106.6,578.7 1106.7,573.8 1106.9,570.3 1107.0,576.6 1107.1,574.5 1107.3,576.5 1107.4,567.3 1107.5,573.3 1107.7,584.2 1107.8,566.2 1107.9,572.7 1108.1,563.6 1108.2,578.1 1108.3,577.4 1108.4,575.6 1108.6,582.6 1108.7,576.7 1108.8,567.4 1109.0,570.6 1109.1,588.2 1109.2,567.2 1109.4,572.5 1109.5,569.9 1109.6,574.3 1109.8,573.5 1109.9,574.2 1110.0,574.2 1110.2,580.4 1110.3,568.6 1110.4,573.3 1110.6,572.3 1110.7,572.6 1110.8,576.3 1111.0,574.9 1111.1,582.1 1111.2,573.0 1111.4,573.0 1111.5,575.9 1111.6,584.3 1111.8,566.9 1111.9,575.5 1112.0,574.7 1112.2,576.3 1112.3,577.9 1112.4,576.8 1112.6,580.9 1112.7,577.9 1112.8,562.8 1113.0,567.8 1113.1,563.2 1113.2,578.1 1113.4,585.3 1113.5,582.3 1113.6,589.5 1113.8,568.4 1113.9,567.6 1114.0,573.9 1114.1,572.4 1114.3,572.4 1114.4,575.2 1114.5,570.4 1114.7,580.3 1114.8,577.0 1114.9,594.6 1115.1,584.2 1115.2,580.3 1115.3,572.1 1115.5,572.6 1115.6,588.6 1115.7,569.3 1115.9,572.5 1116.0,570.2 1116.1,574.9 1116.3,571.2 1116.4,581.9 1116.5,575.8 1116.7,580.6 1116.8,577.5 1116.9,567.9 1117.1,565.3 1117.2,574.3 1117.3,577.1 1117.5,570.1 1117.6,571.9 1117.7,563.6 1117.9,571.0 1118.0,587.8 1118.1,574.2 1118.3,576.4 1118.4,579.1 1118.5,573.8 1118.7,574.2 1118.8,576.5 1118.9,566.0 1119.1,572.4 1119.2,591.5 1119.3,573.6 1119.5,567.6 1119.6,580.9 1119.7,567.7 1119.9,575.9 1120.0,566.1 1120.1,566.5 1120.2,571.7 1120.4,577.1 1120.5,572.9 1120.6,572.5 1120.8,582.8 1120.9,576.4 1121.0,538.5 1121.2,566.8 1121.3,564.9 1121.4,578.7 1121.6,577.5 1121.7,582.0 1121.8,573.1 1122.0,569.9 1122.1,564.4 1122.2,581.8 1122.4,569.3 1122.5,575.4 1122.6,578.6 1122.8,576.5 1122.9,578.9 1123.0,572.0 1123.2,574.6 1123.3,567.8 1123.4,577.6 1123.6,585.2 1123.7,580.2 1123.8,572.6 1124.0,582.9 1124.1,578.8 1124.2,571.5 1124.4,582.3 1124.5,569.8 1124.6,572.7 1124.8,577.9 1124.9,574.8 1125.0,577.4 1125.2,576.8 1125.3,576.4 1125.4,574.5 1125.6,575.1 1125.7,578.8 1125.8,580.2 1126.0,562.9 1126.1,580.8 1126.2,575.5 1126.3,567.8 1126.5,569.0 1126.6,578.7 1126.7,563.3 1126.9,564.6 1127.0,576.4 1127.1,581.6 1127.3,571.0 1127.4,575.6 1127.5,576.3 1127.7,579.2 1127.8,578.0 1127.9,573.7 1128.1,569.5 1128.2,586.3 1128.3,588.1 1128.5,569.2 1128.6,579.4 1128.7,570.7 1128.9,574.0 1129.0,567.6 1129.1,569.5 1129.3,576.2 1129.4,575.5 1129.5,572.8 1129.7,570.4 1129.8,578.2 1129.9,583.2 1130.1,574.0 1130.2,574.9 1130.3,575.5 1130.5,580.3 1130.6,571.2 1130.7,584.4 1130.9,577.4 1131.0,567.3 1131.1,580.9 1131.3,572.3 1131.4,572.0 1131.5,572.2 1131.7,584.1 1131.8,568.9 1131.9,573.8 1132.1,571.8 1132.2,572.9 1132.3,574.2 1132.4,567.7 1132.6,566.4 1132.7,585.1 1132.8,579.0 1133.0,575.5 1133.1,586.9 1133.2,566.3 1133.4,579.0 1133.5,571.4 1133.6,573.3 1133.8,575.8 1133.9,580.3 1134.0,576.6 1134.2,574.0 1134.3,570.1 1134.4,575.7 1134.6,576.8 1134.7,576.0 1134.8,567.2 1135.0,572.9 1135.1,578.4 1135.2,581.7 1135.4,576.9 1135.5,579.7 1135.6,576.9 1135.8,566.9 1135.9,570.6 1136.0,573.3 1136.2,572.3 1136.3,564.8 1136.4,581.0 1136.6,572.0 1136.7,575.7 1136.8,573.8 1137.0,574.1 1137.1,576.3 1137.2,571.5 1137.4,586.8 1137.5,572.9 1137.6,570.7 1137.8,579.9 1137.9,580.1 1138.0,563.8 1138.2,579.6 1138.3,576.7 1138.4,578.9 1138.5,578.0 1138.7,578.3 1138.8,586.5 1138.9,561.1 1139.1,578.7 1139.2,572.4 1139.3,575.0 1139.5,566.9 1139.6,570.6 1139.7,568.2 1139.9,568.0 1140.0,569.8 1140.1,574.4 1140.3,569.4 1140.4,583.6 1140.5,569.6 1140.7,570.6 1140.8,572.9 1140.9,582.1 1141.1,567.0 1141.2,578.4 1141.3,571.0 1141.5,585.0 1141.6,575.6 1141.7,578.2 1141.9,579.0 1142.0,578.3 1142.1,564.6 1142.3,574.8 1142.4,572.7 1142.5,562.5 1142.7,582.7 1142.8,566.0 1142.9,576.7 1143.1,578.1 1143.2,576.9 1143.3,584.8 1143.5,583.2 1143.6,581.0 1143.7,577.8 1143.9,570.6 1144.0,568.5 1144.1,576.7 1144.2,572.5 1144.4,572.1 1144.5,575.9 1144.6,573.3 1144.8,577.9 1144.9,571.5 1145.0,575.9 1145.2,574.4 1145.3,573.2 1145.4,573.8 1145.6,578.7 1145.7,582.2 1145.8,575.0 1146.0,577.8 1146.1,577.6 1146.2,575.2 1146.4,578.6 1146.5,572.1 1146.6,572.4 1146.8,579.7 1146.9,572.6 1147.0,580.1 1147.2,570.6 1147.3,571.1 1147.4,574.7 1147.6,569.6 1147.7,568.9 1147.8,572.1 1148.0,585.0 1148.1,573.9 1148.2,573.5 1148.4,570.1 1148.5,580.2 1148.6,570.7 1148.8,572.7 1148.9,572.4 1149.0,581.7 1149.2,579.6 1149.3,568.3 1149.4,570.0 1149.6,575.2 1149.7,568.6 1149.8,552.4 1150.0,577.0 1150.1,594.6 1150.2,569.0 1150.3,575.5 1150.5,573.4 1150.6,584.8 1150.7,577.8 1150.9,573.0 1151.0,576.1 1151.1,578.9 1151.3,581.0 1151.4,573.6 1151.5,576.8 1151.7,576.6 1151.8,576.4 1151.9,578.4 1152.1,576.6 1152.2,578.2 1152.3,574.6 1152.5,582.5 1152.6,580.9 1152.7,574.6 1152.9,575.7 1153.0,573.9 1153.1,563.5 1153.3,570.6 1153.4,568.4 1153.5,572.4 1153.7,575.4 1153.8,579.3 1153.9,585.2 1154.1,582.7 1154.2,587.9 1154.3,581.1 1154.5,583.7 1154.6,580.2 1154.7,574.9 1154.9,577.1 1155.0,569.8 1155.1,569.7 1155.3,569.0 1155.4,569.9 1155.5,573.3 1155.7,577.7 1155.8,572.2 1155.9,576.2 1156.1,575.9 1156.2,572.5 1156.3,580.9 1156.4,583.9 1156.6,572.9 1156.7,564.8 1156.8,568.5 1157.0,553.6 1157.1,582.6 1157.2,578.4 1157.4,587.7 1157.5,579.6 1157.6,564.1 1157.8,565.7 1157.9,580.5 1158.0,576.6 1158.2,579.4 1158.3,582.3 1158.4,576.1 1158.6,576.6 1158.7,574.2 1158.8,573.3 1159.0,570.8 1159.1,567.0 1159.2,575.2 1159.4,575.9 1159.5,574.7 1159.6,572.3 1159.8,575.5 1159.9,580.3 1160.0,577.7 1160.2,570.6 1160.3,580.5 1160.4,570.2 1160.6,582.6 1160.7,571.3 1160.8,571.4 1161.0,575.9 1161.1,574.9 1161.2,576.1 1161.4,565.3 1161.5,577.2 1161.6,578.9 1161.8,572.6 1161.9,568.5 1162.0,572.9 1162.2,575.6 1162.3,569.0 1162.4,579.0 1162.5,579.1 1162.7,581.7 1162.8,568.0 1162.9,587.2 1163.1,582.0 1163.2,573.4 1163.3,572.5 1163.5,565.0 1163.6,572.4 1163.7,577.5 1163.9,567.0 1164.0,568.8 1164.1,568.2 1164.3,568.8 1164.4,571.9 1164.5,582.9 1164.7,580.7 1164.8,563.7 1164.9,574.5 1165.1,585.1 1165.2,574.4 1165.3,569.4 1165.5,572.5 1165.6,574.7 1165.7,587.8 1165.9,574.4 1166.0,575.5 1166.1,565.4 1166.3,493.7 1166.4,607.2 1166.5,577.2 1166.7,575.5 1166.8,573.2 1166.9,577.6 1167.1,579.7 1167.2,581.7 1167.3,574.1 1167.5,576.8 1167.6,576.6 1167.7,583.3 1167.9,579.3 1168.0,585.4 1168.1,569.4 1168.3,568.2 1168.4,572.5 1168.5,575.4 1168.6,572.2 1168.8,583.1 1168.9,582.2 1169.0,568.2 1169.2,580.6 1169.3,575.1 1169.4,578.6 1169.6,588.5 1169.7,578.6 1169.8,570.2 1170.0,567.5 1170.1,589.0 1170.2,583.6 1170.4,578.1 1170.5,569.2 1170.6,568.0 1170.8,565.9 1170.9,565.4 1171.0,577.2 1171.2,580.4 1171.3,569.6 1171.4,576.3 1171.6,574.6 1171.7,576.8 1171.8,577.0 1172.0,569.7 1172.1,580.5 1172.2,584.6 1172.4,578.8 1172.5,574.3 1172.6,576.6 1172.8,575.6 1172.9,586.0 1173.0,579.8 1173.2,568.8 1173.3,575.8 1173.4,578.7 1173.6,568.6 1173.7,578.1 1173.8,570.7 1174.0,573.7 1174.1,572.6 1174.2,569.1 1174.4,562.3 1174.5,567.8 1174.6,579.7 1174.7,581.2 1174.9,576.8 1175.0,575.9 1175.1,571.0 1175.3,574.8 1175.4,573.8 1175.5,584.6 1175.7,575.3 1175.8,572.0 1175.9,565.4 1176.1,570.5 1176.2,574.5 1176.3,581.7 1176.5,575.0 1176.6,575.0 1176.7,575.8 1176.9,574.1 1177.0,572.2 1177.1,572.5 1177.3,562.4 1177.4,580.5 1177.5,583.9 1177.7,572.8 1177.8,582.0 1177.9,576.2 1178.1,575.5 1178.2,579.6 1178.3,570.6 1178.5,571.4 1178.6,539.1 1178.7,571.6 1178.9,570.1 1179.0,576.8 1179.1,571.7 1179.3,574.3 1179.4,575.1 1179.5,577.7 1179.7,565.2 1179.8,573.2 1179.9,583.1 1180.1,572.3 1180.2,589.5 1180.3,573.6 1180.4,570.8 1180.6,567.1 1180.7,573.9 1180.8,579.1 1181.0,564.1 1181.1,569.3 1181.2,567.8 1181.4,576.5 1181.5,571.5 1181.6,585.1 1181.8,572.4 1181.9,587.0 1182.0,580.9 1182.2,583.4 1182.3,568.7 1182.4,569.9 1182.6,578.4 1182.7,568.1 1182.8,574.7 1183.0,586.3 1183.1,577.3 1183.2,584.9 1183.4,574.7 1183.5,573.1 1183.6,579.3" stroke-width="1.7"/>
<rect class="sp" x="911" y="517" width="274" height="120"/>
<text x="912.2" y="659.5" font-size="9.72" text-anchor="middle" fill="#000">0</text>
<text x="978.5" y="659.5" font-size="9.72" text-anchor="middle" fill="#000">500</text>
<text x="1044.8" y="659.5" font-size="9.72" text-anchor="middle" fill="#000">1000</text>
<text x="1111.1" y="659.5" font-size="9.72" text-anchor="middle" fill="#000">1500</text>
<text x="1177.4" y="659.5" font-size="9.72" text-anchor="middle" fill="#000">2000</text>
<text x="897" y="548.06" font-size="9.72" text-anchor="end" fill="#000">50</text>
<text x="897" y="579.59" font-size="9.72" text-anchor="end" fill="#000">0</text>
<text x="897" y="611.13" font-size="9.72" text-anchor="end" fill="#000">−50</text>
<path class="tk" d="M912.20 637v6.6M978.50 637v6.6M1044.80 637v6.6M1111.10 637v6.6M1177.40 637v6.6M911 544.16h-6.6M911 575.69h-6.6M911 607.23h-6.6"/>
<text x="1048" y="677.5" font-size="10.42" text-anchor="middle" fill="#000">X</text>
<text x="863.6" y="577.0" font-size="10.42" text-anchor="middle" fill="#000" transform="rotate(-90 863.6 577.0)">counts</text>
<text x="1193.5" y="576.0" font-size="10.42" text-anchor="middle" fill="#000" transform="rotate(90 1193.5 576.0)">cut in x</text>
<clipPath id="c4"><rect x="911" y="689" width="274" height="120"/></clipPath>
<path class="ln" clip-path="url(#c4)" d="M912.2,757.0 912.3,755.2 912.5,767.9 912.6,758.1 912.7,762.3 912.9,763.4 913.0,750.2 913.1,765.9 913.3,763.4 913.4,761.3 913.5,757.0 913.7,755.5 913.8,766.6 913.9,751.2 914.1,748.0 914.2,746.7 914.3,758.7 914.5,763.0 914.6,766.6 914.7,757.1 914.9,759.8 915.0,759.5 915.1,763.1 915.2,773.5 915.4,760.6 915.5,759.7 915.6,760.9 915.8,767.7 915.9,760.0 916.0,759.1 916.2,765.4 916.3,753.6 916.4,758.0 916.6,756.7 916.7,754.9 916.8,759.0 917.0,757.8 917.1,753.6 917.2,752.0 917.4,751.0 917.5,758.0 917.6,751.6 917.8,749.0 917.9,765.7 918.0,759.0 918.2,756.4 918.3,756.1 918.4,744.1 918.6,748.1 918.7,756.7 918.8,756.5 919.0,764.9 919.1,762.0 919.2,746.5 919.4,766.7 919.5,751.1 919.6,759.8 919.8,757.1 919.9,755.6 920.0,742.7 920.2,752.5 920.3,751.3 920.4,747.8 920.6,769.2 920.7,742.0 920.8,765.4 921.0,759.0 921.1,749.5 921.2,762.2 921.3,765.5 921.5,746.1 921.6,755.8 921.7,747.5 921.9,750.4 922.0,754.8 922.1,742.2 922.3,755.1 922.4,739.9 922.5,759.1 922.7,759.7 922.8,757.6 922.9,751.4 923.1,760.4 923.2,757.5 923.3,743.2 923.5,751.5 923.6,744.9 923.7,750.1 923.9,756.3 924.0,757.5 924.1,751.1 924.3,751.8 924.4,755.6 924.5,755.8 924.7,742.5 924.8,745.1 924.9,749.9 925.1,754.1 925.2,754.6 925.3,738.5 925.5,755.6 925.6,736.4 925.7,755.9 925.9,761.4 926.0,738.1 926.1,752.2 926.3,741.3 926.4,748.4 926.5,752.9 926.7,745.0 926.8,753.1 926.9,748.3 927.1,752.0 927.2,762.7 927.3,748.4 927.4,754.5 927.6,751.9 927.7,748.1 927.8,760.2 928.0,747.2 928.1,746.9 928.2,738.0 928.4,745.2 928.5,748.4 928.6,754.9 928.8,750.7 928.9,759.8 929.0,747.8 929.2,751.8 929.3,752.8 929.4,750.3 929.6,747.4 929.7,748.6 929.8,758.1 930.0,741.5 930.1,750.0 930.2,748.0 930.4,750.1 930.5,756.3 930.6,748.4 930.8,752.7 930.9,755.6 931.0,749.2 931.2,745.0 931.3,745.9 931.4,748.7 931.6,753.9 931.7,752.0 931.8,750.7 932.0,759.2 932.1,744.5 932.2,749.1 932.4,758.1 932.5,739.9 932.6,737.0 932.8,758.1 932.9,750.7 933.0,755.0 933.2,744.5 933.3,758.5 933.4,746.3 933.5,746.9 933.7,742.2 933.8,761.8 933.9,754.4 934.1,750.7 934.2,743.1 934.3,748.7 934.5,744.4 934.6,746.3 934.7,755.1 934.9,750.0 935.0,751.8 935.1,751.2 935.3,755.2 935.4,744.2 935.5,747.1 935.7,761.6 935.8,744.2 935.9,752.8 936.1,758.7 936.2,741.1 936.3,749.1 936.5,746.7 936.6,749.9 936.7,749.2 936.9,760.8 937.0,743.9 937.1,753.7 937.3,748.8 937.4,749.4 937.5,755.2 937.7,757.0 937.8,749.8 937.9,740.4 938.1,753.1 938.2,752.7 938.3,748.1 938.5,752.5 938.6,740.0 938.7,745.6 938.9,732.2 939.0,747.2 939.1,734.0 939.3,752.4 939.4,747.0 939.5,755.4 939.6,751.0 939.8,750.5 939.9,744.3 940.0,739.4 940.2,750.0 940.3,757.8 940.4,748.2 940.6,749.3 940.7,751.4 940.8,742.5 941.0,740.7 941.1,752.7 941.2,752.7 941.4,765.1 941.5,752.1 941.6,742.5 941.8,754.0 941.9,741.9 942.0,743.4 942.2,743.8 942.3,743.6 942.4,748.3 942.6,741.0 942.7,740.7 942.8,745.4 943.0,747.9 943.1,739.1 943.2,737.7 943.4,751.8 943.5,742.1 943.6,747.2 943.8,732.1 943.9,749.6 944.0,751.6 944.2,753.5 944.3,741.5 944.4,754.4 944.6,743.2 944.7,750.8 944.8,738.6 945.0,737.0 945.1,739.9 945.2,760.2 945.4,757.0 945.5,765.2 945.6,730.0 945.7,751.3 945.9,750.1 946.0,747.0 946.1,743.3 946.3,749.5 946.4,746.9 946.5,747.4 946.7,755.9 946.8,735.3 946.9,735.8 947.1,747.1 947.2,748.1 947.3,734.8 947.5,731.1 947.6,746.8 947.7,743.2 947.9,749.9 948.0,744.9 948.1,764.0 948.3,762.0 948.4,744.1 948.5,748.3 948.7,744.4 948.8,746.5 948.9,743.0 949.1,745.3 949.2,748.1 949.3,744.2 949.5,751.3 949.6,737.6 949.7,753.4 949.9,749.5 950.0,740.9 950.1,749.3 950.3,740.5 950.4,737.2 950.5,741.6 950.7,749.7 950.8,734.2 950.9,743.7 951.1,753.1 951.2,733.4 951.3,745.5 951.4,742.6 951.6,740.7 951.7,750.1 951.8,740.7 952.0,754.9 952.1,753.1 952.2,749.2 952.4,732.2 952.5,742.6 952.6,738.9 952.8,749.5 952.9,743.0 953.0,760.5 953.2,748.2 953.3,743.6 953.4,750.3 953.6,759.6 953.7,757.3 953.8,742.3 954.0,737.6 954.1,749.0 954.2,735.9 954.4,755.1 954.5,742.4 954.6,744.5 954.8,739.5 954.9,756.5 955.0,739.9 955.2,745.8 955.3,752.3 955.4,749.6 955.6,748.0 955.7,744.7 955.8,752.3 956.0,752.4 956.1,746.1 956.2,746.9 956.4,743.4 956.5,740.7 956.6,759.0 956.8,747.3 956.9,745.2 957.0,746.4 957.2,753.9 957.3,742.1 957.4,735.4 957.5,748.0 957.7,752.1 957.8,741.7 957.9,746.7 958.1,746.1 958.2,745.4 958.3,749.9 958.5,747.0 958.6,751.7 958.7,760.0 958.9,740.0 959.0,745.0 959.1,747.4 959.3,737.9 959.4,747.9 959.5,739.4 959.7,741.4 959.8,748.9 959.9,755.3 960.1,743.8 960.2,745.4 960.3,740.2 960.5,757.2 960.6,747.7 960.7,745.4 960.9,744.6 961.0,746.1 961.1,744.8 961.3,762.4 961.4,749.0 961.5,751.4 961.7,757.2 961.8,746.2 961.9,749.5 962.1,754.6 962.2,756.2 962.3,744.8 962.5,763.9 962.6,747.5 962.7,754.4 962.9,746.0 963.0,734.1 963.1,740.1 963.3,747.3 963.4,736.8 963.5,734.3 963.6,740.2 963.8,734.5 963.9,745.4 964.0,742.6 964.2,747.4 964.3,749.3 964.4,746.6 964.6,752.0 964.7,747.4 964.8,732.0 965.0,742.0 965.1,748.0 965.2,735.2 965.4,737.1 965.5,753.9 965.6,751.4 965.8,735.2 965.9,746.1 966.0,745.5 966.2,750.3 966.3,754.1 966.4,739.0 966.6,752.1 966.7,743.1 966.8,734.3 967.0,743.1 967.1,748.1 967.2,742.5 967.4,743.0 967.5,749.8 967.6,744.9 967.8,754.8 967.9,758.5 968.0,750.4 968.2,758.5 968.3,751.0 968.4,747.6 968.6,745.5 968.7,734.3 968.8,753.0 969.0,749.9 969.1,749.9 969.2,753.6 969.4,733.2 969.5,752.0 969.6,748.4 969.7,748.0 969.9,730.5 970.0,748.9 970.1,752.0 970.3,738.5 970.4,751.3 970.5,761.1 970.7,739.3 970.8,740.6 970.9,756.5 971.1,755.3 971.2,747.2 971.3,753.5 971.5,757.2 971.6,755.0 971.7,734.9 971.9,739.7 972.0,769.1 972.1,748.1 972.3,746.3 972.4,749.3 972.5,747.3 972.7,735.2 972.8,751.4 972.9,752.3 973.1,747.4 973.2,751.7 973.3,750.1 973.5,750.1 973.6,753.9 973.7,739.0 973.9,751.7 974.0,738.2 974.1,752.9 974.3,753.4 974.4,745.5 974.5,749.0 974.7,741.5 974.8,742.6 974.9,731.5 975.1,767.2 975.2,754.3 975.3,747.5 975.5,748.7 975.6,747.6 975.7,729.6 975.8,762.6 976.0,742.6 976.1,748.8 976.2,747.2 976.4,739.8 976.5,747.6 976.6,741.8 976.8,738.4 976.9,739.1 977.0,759.9 977.2,751.7 977.3,756.1 977.4,752.6 977.6,748.6 977.7,733.1 977.8,751.6 978.0,749.3 978.1,748.4 978.2,737.0 978.4,751.1 978.5,744.2 978.6,741.7 978.8,743.4 978.9,761.2 979.0,756.3 979.2,742.7 979.3,759.5 979.4,749.0 979.6,757.8 979.7,744.8 979.8,747.8 980.0,758.2 980.1,749.3 980.2,754.8 980.4,751.4 980.5,739.1 980.6,745.7 980.8,745.3 980.9,737.1 981.0,690.9 981.2,738.7 981.3,744.9 981.4,745.8 981.5,750.1 981.7,753.3 981.8,754.6 981.9,753.9 982.1,744.1 982.2,744.8 982.3,753.3 982.5,739.3 982.6,751.9 982.7,750.2 982.9,756.9 983.0,753.3 983.1,741.7 983.3,744.6 983.4,751.8 983.5,739.2 983.7,748.0 983.8,747.0 983.9,740.4 984.1,744.4 984.2,749.8 984.3,754.7 984.5,738.8 984.6,763.5 984.7,751.7 984.9,759.4 985.0,751.5 985.1,741.8 985.3,749.8 985.4,750.4 985.5,747.9 985.7,734.3 985.8,738.3 985.9,746.0 986.1,751.9 986.2,750.2 986.3,745.2 986.5,749.1 986.6,748.3 986.7,754.5 986.9,756.7 987.0,754.9 987.1,745.9 987.3,753.7 987.4,730.4 987.5,743.7 987.6,743.0 987.8,774.8 987.9,754.4 988.0,755.2 988.2,748.8 988.3,743.3 988.4,743.5 988.6,736.1 988.7,737.7 988.8,740.0 989.0,739.4 989.1,745.1 989.2,741.1 989.4,748.7 989.5,749.6 989.6,740.4 989.8,757.8 989.9,737.3 990.0,734.1 990.2,749.8 990.3,741.4 990.4,745.3 990.6,753.0 990.7,743.9 990.8,742.8 991.0,739.5 991.1,748.5 991.2,745.3 991.4,750.3 991.5,739.5 991.6,746.9 991.8,740.5 991.9,750.8 992.0,745.4 992.2,752.3 992.3,751.2 992.4,738.8 992.6,747.5 992.7,746.8 992.8,741.3 993.0,751.7 993.1,733.2 993.2,751.4 993.4,748.9 993.5,731.7 993.6,757.7 993.7,734.4 993.9,743.6 994.0,742.8 994.1,753.3 994.3,745.1 994.4,754.7 994.5,739.6 994.7,747.9 994.8,750.7 994.9,749.6 995.1,747.4 995.2,739.8 995.3,743.9 995.5,751.5 995.6,752.2 995.7,753.3 995.9,741.1 996.0,743.2 996.1,753.9 996.3,757.3 996.4,746.9 996.5,750.3 996.7,743.0 996.8,747.3 996.9,744.0 997.1,741.2 997.2,739.6 997.3,748.0 997.5,741.8 997.6,750.4 997.7,754.6 997.9,745.1 998.0,738.6 998.1,737.2 998.3,747.1 998.4,758.1 998.5,744.5 998.7,748.1 998.8,742.5 998.9,739.5 999.1,749.6 999.2,751.4 999.3,749.3 999.5,751.3 999.6,753.4 999.7,745.3 999.8,751.7 1000.0,748.7 1000.1,749.0 1000.2,750.9 1000.4,742.8 1000.5,749.9 1000.6,747.4 1000.8,741.6 1000.9,747.8 1001.0,756.5 1001.2,750.0 1001.3,750.0 1001.4,742.7 1001.6,735.9 1001.7,745.6 1001.8,747.8 1002.0,737.2 1002.1,751.5 1002.2,744.9 1002.4,743.8 1002.5,747.3 1002.6,748.2 1002.8,745.8 1002.9,736.9 1003.0,743.2 1003.2,750.9 1003.3,745.0 1003.4,740.6 1003.6,735.2 1003.7,741.6 1003.8,745.7 1004.0,737.8 1004.1,741.1 1004.2,746.0 1004.4,751.3 1004.5,746.4 1004.6,740.7 1004.8,754.0 1004.9,757.5 1005.0,743.6 1005.2,757.1 1005.3,755.5 1005.4,748.3 1005.6,748.6 1005.7,746.6 1005.8,745.9 1005.9,743.5 1006.1,747.7 1006.2,752.5 1006.3,765.7 1006.5,738.9 1006.6,741.9 1006.7,743.0 1006.9,747.3 1007.0,752.9 1007.1,744.0 1007.3,747.6 1007.4,756.1 1007.5,740.4 1007.7,756.6 1007.8,750.0 1007.9,735.6 1008.1,752.5 1008.2,746.0 1008.3,740.3 1008.5,747.2 1008.6,756.5 1008.7,750.5 1008.9,747.6 1009.0,757.2 1009.1,737.9 1009.3,745.2 1009.4,742.6 1009.5,745.6 1009.7,744.8 1009.8,749.7 1009.9,757.0 1010.1,742.9 1010.2,747.1 1010.3,737.0 1010.5,755.0 1010.6,746.3 1010.7,733.0 1010.9,756.2 1011.0,755.2 1011.1,745.9 1011.3,736.2 1011.4,755.3 1011.5,747.0 1011.7,748.6 1011.8,751.1 1011.9,749.1 1012.0,739.4 1012.2,746.6 1012.3,756.2 1012.4,751.6 1012.6,746.9 1012.7,756.8 1012.8,713.0 1013.0,750.2 1013.1,770.4 1013.2,735.3 1013.4,758.2 1013.5,747.1 1013.6,748.7 1013.8,751.6 1013.9,739.6 1014.0,747.2 1014.2,753.1 1014.3,739.8 1014.4,743.9 1014.6,754.4 1014.7,757.7 1014.8,741.7 1015.0,748.5 1015.1,757.2 1015.2,743.9 1015.4,757.1 1015.5,752.2 1015.6,753.0 1015.8,760.7 1015.9,743.0 1016.0,724.4 1016.2,743.3 1016.3,744.9 1016.4,749.3 1016.6,748.0 1016.7,745.7 1016.8,743.4 1017.0,750.8 1017.1,747.2 1017.2,748.9 1017.4,743.8 1017.5,741.2 1017.6,740.1 1017.7,750.3 1017.9,750.5 1018.0,742.7 1018.1,749.0 1018.3,748.7 1018.4,744.2 1018.5,744.7 1018.7,738.4 1018.8,755.2 1018.9,739.7 1019.1,750.2 1019.2,742.6 1019.3,755.7 1019.5,747.9 1019.6,751.2 1019.7,735.3 1019.9,753.3 1020.0,739.4 1020.1,752.3 1020.3,754.4 1020.4,744.9 1020.5,739.9 1020.7,747.4 1020.8,743.0 1020.9,745.4 1021.1,747.3 1021.2,737.7 1021.3,746.9 1021.5,741.1 1021.6,754.6 1021.7,748.1 1021.9,740.6 1022.0,749.9 1022.1,761.1 1022.3,741.8 1022.4,743.0 1022.5,748.7 1022.7,746.1 1022.8,749.0 1022.9,744.2 1023.1,739.4 1023.2,744.7 1023.3,747.3 1023.5,750.0 1023.6,747.8 1023.7,750.1 1023.8,740.3 1024.0,753.7 1024.1,750.6 1024.2,744.4 1024.4,744.5 1024.5,745.0 1024.6,749.5 1024.8,745.3 1024.9,756.1 1025.0,756.8 1025.2,755.2 1025.3,744.1 1025.4,737.6 1025.6,749.5 1025.7,750.3 1025.8,748.5 1026.0,734.6 1026.1,745.1 1026.2,745.9 1026.4,750.3 1026.5,743.2 1026.6,737.9 1026.8,745.2 1026.9,751.8 1027.0,737.8 1027.2,746.6 1027.3,734.7 1027.4,753.4 1027.6,747.4 1027.7,744.7 1027.8,758.1 1028.0,745.8 1028.1,742.4 1028.2,747.3 1028.4,743.6 1028.5,745.3 1028.6,752.1 1028.8,741.7 1028.9,751.5 1029.0,748.5 1029.2,751.4 1029.3,742.3 1029.4,749.7 1029.6,749.7 1029.7,760.7 1029.8,748.4 1029.9,740.0 1030.1,760.4 1030.2,744.2 1030.3,746.9 1030.5,758.1 1030.6,749.4 1030.7,740.4 1030.9,746.7 1031.0,744.3 1031.1,739.3 1031.3,748.8 1031.4,740.9 1031.5,754.9 1031.7,752.3 1031.8,737.1 1031.9,737.7 1032.1,740.4 1032.2,756.5 1032.3,748.1 1032.5,752.4 1032.6,733.9 1032.7,755.4 1032.9,754.9 1033.0,750.5 1033.1,744.4 1033.3,750.4 1033.4,769.8 1033.5,744.6 1033.7,746.3 1033.8,758.8 1033.9,754.7 1034.1,735.7 1034.2,746.2 1034.3,734.5 1034.5,736.9 1034.6,739.2 1034.7,746.0 1034.9,736.3 1035.0,749.4 1035.1,731.7 1035.3,742.5 1035.4,742.4 1035.5,748.8 1035.7,750.0 1035.8,747.8 1035.9,749.6 1036.0,751.9 1036.2,753.2 1036.3,744.8 1036.4,738.3 1036.6,733.2 1036.7,741.0 1036.8,746.7 1037.0,741.9 1037.1,734.8 1037.2,745.1 1037.4,739.3 1037.5,743.4 1037.6,745.0 1037.8,749.6 1037.9,741.2 1038.0,751.3 1038.2,752.4 1038.3,743.6 1038.4,739.5 1038.6,739.8 1038.7,740.3 1038.8,747.9 1039.0,746.7 1039.1,738.5 1039.2,732.3 1039.4,763.5 1039.5,737.9 1039.6,744.4 1039.8,746.3 1039.9,750.7 1040.0,750.1 1040.2,753.8 1040.3,744.2 1040.4,752.3 1040.6,747.2 1040.7,755.9 1040.8,738.2 1041.0,741.6 1041.1,753.7 1041.2,743.0 1041.4,748.6 1041.5,751.8 1041.6,745.6 1041.8,740.6 1041.9,736.2 1042.0,744.3 1042.1,738.4 1042.3,741.6 1042.4,741.6 1042.5,739.7 1042.7,755.0 1042.8,748.7 1042.9,736.3 1043.1,754.9 1043.2,751.7 1043.3,733.8 1043.5,752.9 1043.6,745.4 1043.7,744.4 1043.9,748.1 1044.0,740.1 1044.1,740.5 1044.3,750.8 1044.4,734.8 1044.5,751.7 1044.7,749.2 1044.8,747.3 1044.9,745.0 1045.1,753.6 1045.2,744.8 1045.3,760.9 1045.5,749.8 1045.6,752.5 1045.7,751.2 1045.9,747.2 1046.0,745.1 1046.1,751.6 1046.3,746.6 1046.4,756.7 1046.5,749.3 1046.7,740.7 1046.8,751.4 1046.9,748.9 1047.1,747.1 1047.2,741.6 1047.3,744.5 1047.5,748.0 1047.6,753.5 1047.7,745.4 1047.8,765.8 1048.0,744.2 1048.1,751.9 1048.2,742.8 1048.4,747.4 1048.5,738.2 1048.6,751.2 1048.8,759.9 1048.9,746.9 1049.0,750.2 1049.2,747.7 1049.3,739.3 1049.4,752.9 1049.6,742.7 1049.7,741.3 1049.8,740.1 1050.0,760.1 1050.1,746.1 1050.2,751.6 1050.4,748.6 1050.5,752.4 1050.6,749.2 1050.8,741.0 1050.9,735.9 1051.0,742.5 1051.2,755.1 1051.3,738.9 1051.4,755.1 1051.6,749.5 1051.7,739.7 1051.8,750.9 1052.0,742.4 1052.1,748.8 1052.2,754.6 1052.4,745.7 1052.5,750.5 1052.6,735.6 1052.8,735.1 1052.9,736.8 1053.0,753.7 1053.2,734.7 1053.3,745.0 1053.4,743.7 1053.6,745.7 1053.7,750.6 1053.8,746.1 1053.9,741.2 1054.1,736.9 1054.2,743.3 1054.3,746.9 1054.5,750.1 1054.6,749.0 1054.7,736.4 1054.9,742.5 1055.0,745.5 1055.1,757.7 1055.3,758.5 1055.4,742.6 1055.5,742.9 1055.7,739.7 1055.8,745.7 1055.9,751.3 1056.1,758.2 1056.2,753.0 1056.3,762.1 1056.5,745.0 1056.6,743.9 1056.7,738.0 1056.9,758.9 1057.0,756.2 1057.1,743.0 1057.3,744.9 1057.4,760.2 1057.5,751.7 1057.7,746.4 1057.8,749.6 1057.9,744.6 1058.1,746.8 1058.2,750.7 1058.3,744.6 1058.5,747.6 1058.6,739.4 1058.7,756.6 1058.9,748.6 1059.0,751.5 1059.1,748.7 1059.3,744.4 1059.4,742.8 1059.5,761.1 1059.7,739.5 1059.8,743.5 1059.9,743.6 1060.0,746.6 1060.2,740.9 1060.3,744.4 1060.4,758.9 1060.6,751.5 1060.7,748.8 1060.8,749.5 1061.0,750.0 1061.1,743.1 1061.2,754.5 1061.4,752.0 1061.5,753.6 1061.6,747.3 1061.8,744.2 1061.9,753.1 1062.0,744.5 1062.2,750.7 1062.3,737.8 1062.4,761.9 1062.6,747.2 1062.7,739.6 1062.8,749.5 1063.0,754.4 1063.1,752.8 1063.2,743.4 1063.4,750.7 1063.5,740.1 1063.6,746.7 1063.8,750.7 1063.9,750.0 1064.0,743.9 1064.2,740.3 1064.3,752.4 1064.4,754.8 1064.6,754.7 1064.7,743.9 1064.8,735.0 1065.0,750.4 1065.1,742.5 1065.2,749.6 1065.4,740.8 1065.5,756.8 1065.6,743.0 1065.8,755.6 1065.9,752.5 1066.0,744.7 1066.1,748.5 1066.3,747.4 1066.4,743.4 1066.5,745.6 1066.7,737.0 1066.8,741.9 1066.9,752.6 1067.1,747.4 1067.2,750.5 1067.3,749.6 1067.5,735.1 1067.6,752.1 1067.7,738.4 1067.9,736.9 1068.0,728.8 1068.1,746.8 1068.3,745.1 1068.4,744.9 1068.5,749.3 1068.7,735.1 1068.8,733.8 1068.9,762.1 1069.1,749.0 1069.2,738.9 1069.3,753.7 1069.5,751.5 1069.6,746.7 1069.7,747.0 1069.9,748.1 1070.0,747.8 1070.1,734.8 1070.3,762.3 1070.4,750.3 1070.5,754.5 1070.7,745.3 1070.8,749.9 1070.9,743.7 1071.1,746.8 1071.2,731.6 1071.3,755.7 1071.5,750.1 1071.6,741.1 1071.7,749.5 1071.9,745.9 1072.0,757.1 1072.1,742.2 1072.2,747.8 1072.4,743.2 1072.5,753.1 1072.6,750.6 1072.8,752.7 1072.9,735.9 1073.0,758.7 1073.2,744.1 1073.3,745.3 1073.4,738.5 1073.6,745.1 1073.7,753.9 1073.8,743.6 1074.0,758.6 1074.1,740.0 1074.2,747.8 1074.4,752.0 1074.5,750.4 1074.6,743.1 1074.8,758.3 1074.9,735.6 1075.0,751.8 1075.2,736.9 1075.3,745.9 1075.4,734.2 1075.6,755.2 1075.7,741.2 1075.8,747.5 1076.0,751.3 1076.1,741.4 1076.2,748.7 1076.4,752.0 1076.5,748.5 1076.6,752.3 1076.8,748.6 1076.9,747.4 1077.0,739.8 1077.2,747.7 1077.3,752.3 1077.4,742.0 1077.6,749.6 1077.7,753.6 1077.8,755.2 1078.0,735.3 1078.1,747.9 1078.2,736.3 1078.3,753.7 1078.5,754.3 1078.6,735.6 1078.7,748.9 1078.9,748.4 1079.0,748.7 1079.1,754.1 1079.3,740.3 1079.4,755.3 1079.5,742.0 1079.7,754.4 1079.8,729.6 1079.9,742.3 1080.1,739.7 1080.2,758.6 1080.3,744.8 1080.5,751.4 1080.6,753.0 1080.7,752.8 1080.9,741.6 1081.0,746.9 1081.1,750.5 1081.3,751.2 1081.4,751.5 1081.5,750.8 1081.7,749.1 1081.8,754.9 1081.9,753.3 1082.1,762.1 1082.2,747.4 1082.3,743.3 1082.5,750.5 1082.6,737.9 1082.7,752.3 1082.9,747.0 1083.0,739.4 1083.1,745.5 1083.3,752.5 1083.4,744.8 1083.5,749.9 1083.7,739.7 1083.8,742.0 1083.9,748.6 1084.0,743.6 1084.2,735.5 1084.3,739.5 1084.4,741.3 1084.6,748.4 1084.7,751.1 1084.8,752.2 1085.0,740.2 1085.1,754.4 1085.2,744.4 1085.4,736.4 1085.5,757.8 1085.6,744.7 1085.8,753.8 1085.9,748.0 1086.0,743.6 1086.2,753.7 1086.3,755.9 1086.4,749.8 1086.6,745.7 1086.7,749.7 1086.8,753.5 1087.0,742.5 1087.1,754.6 1087.2,756.8 1087.4,746.4 1087.5,732.7 1087.6,750.5 1087.8,747.7 1087.9,754.0 1088.0,751.2 1088.2,754.7 1088.3,745.3 1088.4,751.6 1088.6,752.4 1088.7,740.9 1088.8,756.9 1089.0,740.9 1089.1,748.3 1089.2,753.2 1089.4,747.3 1089.5,748.9 1089.6,745.0 1089.8,748.5 1089.9,734.5 1090.0,740.0 1090.1,739.6 1090.3,755.1 1090.4,749.4 1090.5,739.1 1090.7,743.0 1090.8,746.9 1090.9,747.6 1091.1,740.0 1091.2,759.8 1091.3,752.8 1091.5,756.3 1091.6,739.3 1091.7,756.2 1091.9,748.8 1092.0,737.9 1092.1,749.0 1092.3,745.1 1092.4,746.8 1092.5,742.4 1092.7,732.2 1092.8,754.8 1092.9,747.3 1093.1,735.8 1093.2,731.0 1093.3,748.4 1093.5,737.6 1093.6,742.4 1093.7,742.7 1093.9,756.4 1094.0,757.8 1094.1,746.0 1094.3,747.7 1094.4,747.6 1094.5,754.8 1094.7,737.2 1094.8,748.1 1094.9,728.7 1095.1,748.5 1095.2,744.4 1095.3,741.8 1095.5,749.2 1095.6,753.6 1095.7,750.7 1095.9,746.8 1096.0,750.2 1096.1,733.5 1096.2,750.3 1096.4,741.7 1096.5,741.4 1096.6,745.6 1096.8,754.0 1096.9,743.4 1097.0,740.5 1097.2,745.6 1097.3,746.6 1097.4,761.3 1097.6,754.1 1097.7,748.0 1097.8,745.5 1098.0,741.8 1098.1,748.8 1098.2,745.6 1098.4,753.7 1098.5,742.6 1098.6,742.0 1098.8,747.6 1098.9,740.3 1099.0,748.8 1099.2,750.1 1099.3,748.8 1099.4,733.4 1099.6,757.6 1099.7,745.5 1099.8,749.1 1100.0,746.0 1100.1,756.7 1100.2,741.9 1100.4,742.4 1100.5,748.5 1100.6,749.6 1100.8,746.3 1100.9,740.4 1101.0,757.0 1101.2,737.3 1101.3,748.8 1101.4,741.1 1101.6,752.2 1101.7,733.6 1101.8,744.9 1102.0,734.8 1102.1,750.7 1102.2,750.9 1102.3,739.0 1102.5,741.8 1102.6,744.2 1102.7,738.2 1102.9,743.7 1103.0,748.8 1103.1,759.1 1103.3,761.8 1103.4,742.2 1103.5,742.7 1103.7,752.5 1103.8,742.8 1103.9,747.8 1104.1,746.2 1104.2,740.0 1104.3,701.7 1104.5,744.1 1104.6,742.9 1104.7,747.7 1104.9,745.3 1105.0,754.0 1105.1,745.4 1105.3,742.2 1105.4,741.2 1105.5,751.0 1105.7,741.0 1105.8,744.4 1105.9,741.9 1106.1,746.7 1106.2,742.2 1106.3,745.1 1106.5,730.2 1106.6,748.4 1106.7,738.8 1106.9,746.6 1107.0,756.4 1107.1,743.3 1107.3,738.3 1107.4,741.4 1107.5,741.2 1107.7,751.9 1107.8,744.4 1107.9,755.7 1108.1,734.6 1108.2,736.1 1108.3,753.4 1108.4,749.1 1108.6,754.7 1108.7,751.5 1108.8,749.4 1109.0,754.3 1109.1,749.6 1109.2,742.2 1109.4,748.4 1109.5,741.7 1109.6,747.6 1109.8,745.8 1109.9,755.0 1110.0,740.3 1110.2,754.1 1110.3,748.9 1110.4,755.1 1110.6,743.1 1110.7,753.5 1110.8,742.7 1111.0,733.6 1111.1,744.2 1111.2,761.6 1111.4,739.9 1111.5,745.3 1111.6,742.4 1111.8,842.3 1111.9,738.7 1112.0,739.6 1112.2,746.8 1112.3,754.8 1112.4,747.0 1112.6,741.3 1112.7,758.9 1112.8,745.4 1113.0,758.5 1113.1,738.9 1113.2,734.0 1113.4,740.5 1113.5,749.2 1113.6,741.1 1113.8,737.4 1113.9,735.1 1114.0,736.8 1114.1,739.0 1114.3,752.9 1114.4,747.0 1114.5,743.2 1114.7,746.0 1114.8,759.4 1114.9,747.5 1115.1,751.1 1115.2,744.9 1115.3,744.0 1115.5,756.0 1115.6,751.4 1115.7,745.3 1115.9,753.4 1116.0,746.6 1116.1,752.0 1116.3,751.1 1116.4,740.5 1116.5,747.3 1116.7,750.1 1116.8,736.2 1116.9,748.6 1117.1,746.7 1117.2,746.3 1117.3,726.2 1117.5,742.2 1117.6,740.7 1117.7,748.9 1117.9,740.8 1118.0,738.9 1118.1,754.3 1118.3,743.5 1118.4,735.4 1118.5,734.2 1118.7,744.8 1118.8,730.9 1118.9,751.0 1119.1,739.3 1119.2,742.8 1119.3,753.4 1119.5,739.6 1119.6,754.9 1119.7,750.7 1119.9,746.9 1120.0,754.4 1120.1,738.4 1120.2,749.3 1120.4,754.6 1120.5,744.6 1120.6,746.4 1120.8,753.6 1120.9,750.0 1121.0,740.3 1121.2,740.8 1121.3,756.9 1121.4,739.8 1121.6,739.7 1121.7,738.5 1121.8,749.4 1122.0,751.4 1122.1,746.9 1122.2,750.6 1122.4,747.9 1122.5,750.2 1122.6,748.1 1122.8,749.5 1122.9,746.0 1123.0,745.1 1123.2,747.9 1123.3,749.9 1123.4,735.5 1123.6,740.0 1123.7,742.9 1123.8,752.1 1124.0,742.0 1124.1,747.3 1124.2,742.2 1124.4,744.7 1124.5,729.3 1124.6,746.1 1124.8,753.0 1124.9,739.0 1125.0,738.5 1125.2,737.3 1125.3,763.8 1125.4,752.6 1125.6,751.8 1125.7,757.3 1125.8,745.5 1126.0,742.0 1126.1,739.2 1126.2,740.3 1126.3,746.3 1126.5,736.0 1126.6,744.8 1126.7,765.3 1126.9,748.7 1127.0,751.6 1127.1,744.3 1127.3,749.5 1127.4,748.8 1127.5,737.4 1127.7,751.8 1127.8,756.0 1127.9,745.1 1128.1,742.4 1128.2,747.6 1128.3,746.9 1128.5,750.8 1128.6,755.7 1128.7,752.0 1128.9,754.0 1129.0,738.6 1129.1,748.6 1129.3,737.4 1129.4,747.8 1129.5,753.1 1129.7,745.7 1129.8,745.6 1129.9,738.0 1130.1,760.6 1130.2,749.8 1130.3,744.2 1130.5,752.0 1130.6,746.2 1130.7,748.9 1130.9,737.3 1131.0,738.5 1131.1,760.8 1131.3,757.3 1131.4,752.3 1131.5,747.4 1131.7,748.0 1131.8,750.4 1131.9,742.9 1132.1,741.0 1132.2,746.2 1132.3,748.9 1132.4,746.6 1132.6,752.5 1132.7,741.3 1132.8,741.3 1133.0,753.1 1133.1,737.1 1133.2,747.2 1133.4,741.3 1133.5,746.9 1133.6,748.1 1133.8,742.1 1133.9,753.4 1134.0,748.5 1134.2,754.9 1134.3,743.5 1134.4,748.4 1134.6,749.0 1134.7,750.4 1134.8,742.5 1135.0,745.0 1135.1,748.3 1135.2,750.0 1135.4,734.8 1135.5,736.7 1135.6,754.4 1135.8,738.7 1135.9,743.3 1136.0,744.7 1136.2,743.9 1136.3,756.0 1136.4,730.2 1136.6,733.0 1136.7,746.5 1136.8,746.7 1137.0,745.8 1137.1,751.3 1137.2,743.1 1137.4,747.0 1137.5,754.0 1137.6,750.1 1137.8,751.2 1137.9,750.9 1138.0,749.2 1138.2,742.7 1138.3,749.7 1138.4,757.8 1138.5,737.3 1138.7,750.9 1138.8,737.3 1138.9,745.3 1139.1,743.3 1139.2,752.6 1139.3,746.3 1139.5,749.5 1139.6,747.4 1139.7,743.8 1139.9,749.6 1140.0,741.4 1140.1,756.5 1140.3,754.2 1140.4,744.1 1140.5,743.4 1140.7,739.8 1140.8,736.1 1140.9,743.9 1141.1,741.8 1141.2,745.2 1141.3,745.8 1141.5,747.5 1141.6,746.1 1141.7,750.6 1141.9,747.8 1142.0,741.5 1142.1,743.5 1142.3,739.1 1142.4,750.0 1142.5,749.2 1142.7,743.9 1142.8,752.5 1142.9,752.8 1143.1,742.7 1143.2,748.9 1143.3,741.1 1143.5,746.3 1143.6,749.8 1143.7,753.9 1143.9,738.9 1144.0,747.5 1144.1,752.9 1144.2,757.0 1144.4,755.4 1144.5,749.8 1144.6,738.8 1144.8,753.2 1144.9,745.2 1145.0,745.7 1145.2,769.4 1145.3,755.7 1145.4,741.8 1145.6,761.0 1145.7,739.8 1145.8,747.2 1146.0,758.6 1146.1,734.9 1146.2,748.2 1146.4,736.8 1146.5,746.0 1146.6,752.4 1146.8,739.9 1146.9,735.4 1147.0,738.9 1147.2,755.4 1147.3,743.2 1147.4,755.3 1147.6,751.4 1147.7,738.4 1147.8,757.0 1148.0,730.7 1148.1,757.8 1148.2,756.2 1148.4,742.4 1148.5,748.8 1148.6,748.4 1148.8,753.7 1148.9,742.5 1149.0,746.0 1149.2,748.0 1149.3,752.9 1149.4,757.6 1149.6,747.6 1149.7,762.2 1149.8,751.9 1150.0,743.3 1150.1,742.9 1150.2,750.3 1150.3,764.9 1150.5,743.8 1150.6,741.5 1150.7,747.1 1150.9,738.9 1151.0,740.5 1151.1,758.8 1151.3,749.0 1151.4,750.8 1151.5,736.9 1151.7,740.2 1151.8,746.7 1151.9,743.6 1152.1,741.5 1152.2,752.2 1152.3,748.7 1152.5,748.1 1152.6,750.3 1152.7,749.6 1152.9,745.9 1153.0,756.2 1153.1,755.2 1153.3,742.2 1153.4,737.2 1153.5,734.8 1153.7,759.3 1153.8,744.9 1153.9,753.1 1154.1,751.1 1154.2,749.0 1154.3,744.8 1154.5,743.7 1154.6,763.8 1154.7,751.6 1154.9,740.2 1155.0,746.7 1155.1,758.4 1155.3,754.2 1155.4,753.0 1155.5,740.7 1155.7,735.7 1155.8,755.0 1155.9,744.1 1156.1,749.5 1156.2,743.7 1156.3,749.2 1156.4,755.2 1156.6,752.0 1156.7,752.1 1156.8,737.8 1157.0,752.7 1157.1,743.9 1157.2,753.3 1157.4,752.2 1157.5,746.1 1157.6,751.5 1157.8,734.4 1157.9,738.8 1158.0,755.3 1158.2,744.3 1158.3,737.6 1158.4,755.9 1158.6,750.5 1158.7,737.8 1158.8,753.4 1159.0,743.6 1159.1,748.4 1159.2,746.7 1159.4,754.9 1159.5,748.4 1159.6,750.9 1159.8,736.1 1159.9,743.6 1160.0,747.2 1160.2,748.1 1160.3,743.4 1160.4,758.9 1160.6,754.9 1160.7,754.3 1160.8,753.6 1161.0,759.3 1161.1,744.8 1161.2,751.5 1161.4,739.8 1161.5,749.1 1161.6,750.9 1161.8,745.4 1161.9,745.5 1162.0,750.4 1162.2,744.6 1162.3,740.1 1162.4,751.6 1162.5,739.9 1162.7,749.9 1162.8,742.8 1162.9,749.0 1163.1,751.3 1163.2,746.8 1163.3,756.4 1163.5,759.6 1163.6,749.2 1163.7,750.6 1163.9,756.5 1164.0,734.7 1164.1,746.3 1164.3,754.0 1164.4,745.6 1164.5,745.5 1164.7,751.8 1164.8,750.9 1164.9,761.8 1165.1,747.8 1165.2,736.7 1165.3,741.7 1165.5,742.4 1165.6,753.4 1165.7,756.8 1165.9,743.6 1166.0,747.6 1166.1,751.0 1166.3,751.8 1166.4,743.4 1166.5,745.6 1166.7,753.0 1166.8,750.6 1166.9,761.1 1167.1,757.9 1167.2,746.2 1167.3,753.1 1167.5,755.9 1167.6,748.3 1167.7,741.7 1167.9,755.9 1168.0,752.5 1168.1,752.1 1168.3,734.0 1168.4,743.6 1168.5,748.7 1168.6,760.1 1168.8,745.5 1168.9,746.8 1169.0,752.0 1169.2,755.8 1169.3,753.8 1169.4,761.9 1169.6,753.5 1169.7,754.0 1169.8,757.1 1170.0,753.2 1170.1,761.7 1170.2,743.6 1170.4,752.3 1170.5,759.2 1170.6,746.2 1170.8,747.7 1170.9,754.8 1171.0,760.4 1171.2,752.0 1171.3,748.5 1171.4,747.4 1171.6,745.6 1171.7,746.1 1171.8,761.7 1172.0,751.1 1172.1,764.5 1172.2,745.6 1172.4,749.4 1172.5,745.8 1172.6,752.0 1172.8,752.3 1172.9,756.0 1173.0,771.0 1173.2,753.8 1173.3,735.3 1173.4,744.0 1173.6,754.1 1173.7,750.5 1173.8,749.8 1174.0,756.7 1174.1,752.9 1174.2,750.6 1174.4,756.3 1174.5,750.0 1174.6,744.8 1174.7,747.6 1174.9,751.3 1175.0,754.4 1175.1,748.4 1175.3,756.9 1175.4,757.6 1175.5,745.0 1175.7,756.0 1175.8,762.6 1175.9,747.9 1176.1,748.9 1176.2,746.2 1176.3,754.5 1176.5,746.2 1176.6,754.8 1176.7,760.7 1176.9,755.2 1177.0,752.4 1177.1,761.4 1177.3,755.4 1177.4,752.6 1177.5,757.1 1177.7,753.8 1177.8,754.6 1177.9,759.8 1178.1,752.3 1178.2,750.7 1178.3,768.0 1178.5,759.2 1178.6,783.6 1178.7,751.8 1178.9,767.4 1179.0,753.3 1179.1,745.7 1179.3,749.2 1179.4,750.0 1179.5,755.8 1179.7,754.6 1179.8,762.8 1179.9,755.2 1180.1,740.0 1180.2,755.5 1180.3,761.5 1180.4,752.0 1180.6,769.1 1180.7,740.5 1180.8,751.6 1181.0,757.5 1181.1,758.2 1181.2,761.9 1181.4,755.2 1181.5,755.7 1181.6,766.4 1181.8,749.5 1181.9,758.6 1182.0,763.5 1182.2,750.1 1182.3,751.4 1182.4,760.2 1182.6,760.8 1182.7,749.3 1182.8,759.3 1183.0,755.4 1183.1,747.7 1183.2,764.9 1183.4,766.9 1183.5,762.6 1183.6,760.9" stroke-width="1.7"/>
<rect class="sp" x="911" y="689" width="274" height="120"/>
<text x="912.2" y="831.5" font-size="9.72" text-anchor="middle" fill="#000">0</text>
<text x="978.5" y="831.5" font-size="9.72" text-anchor="middle" fill="#000">500</text>
<text x="1044.8" y="831.5" font-size="9.72" text-anchor="middle" fill="#000">1000</text>
<text x="1111.1" y="831.5" font-size="9.72" text-anchor="middle" fill="#000">1500</text>
<text x="1177.4" y="831.5" font-size="9.72" text-anchor="middle" fill="#000">2000</text>
<text x="897" y="720.06" font-size="9.72" text-anchor="end" fill="#000">50</text>
<text x="897" y="751.59" font-size="9.72" text-anchor="end" fill="#000">0</text>
<text x="897" y="783.13" font-size="9.72" text-anchor="end" fill="#000">−50</text>
<path class="tk" d="M912.20 809v6.6M978.50 809v6.6M1044.80 809v6.6M1111.10 809v6.6M1177.40 809v6.6M911 716.16h-6.6M911 747.69h-6.6M911 779.23h-6.6"/>
<text x="1048" y="849.5" font-size="10.42" text-anchor="middle" fill="#000">Y</text>
<text x="863.6" y="749.0" font-size="10.42" text-anchor="middle" fill="#000" transform="rotate(-90 863.6 749.0)">counts</text>
<text x="1193.5" y="749.0" font-size="10.42" text-anchor="middle" fill="#000" transform="rotate(90 1193.5 749.0)">cut in y</text>
<rect x="1108.8" y="519.7" width="73.3" height="16.5" rx="2.5" fill="#fff" fill-opacity="0.8" stroke="#cccccc" stroke-width="1.39"/>
<path d="M1110.9 527.7H1133.9" stroke="#0000ff" stroke-width="1.7"/>
<text x="1137.3" y="531.3000000000001" font-size="10.1" text-anchor="start" fill="#000">y=1024</text>
<rect x="1108.8" y="691.7" width="73.3" height="16.5" rx="2.5" fill="#fff" fill-opacity="0.8" stroke="#cccccc" stroke-width="1.39"/>
<path d="M1110.9 699.7H1133.9" stroke="#0000ff" stroke-width="1.7"/>
<text x="1137.3" y="703.3000000000001" font-size="10.1" text-anchor="start" fill="#000">x=1024</text>
</svg></body></html>
